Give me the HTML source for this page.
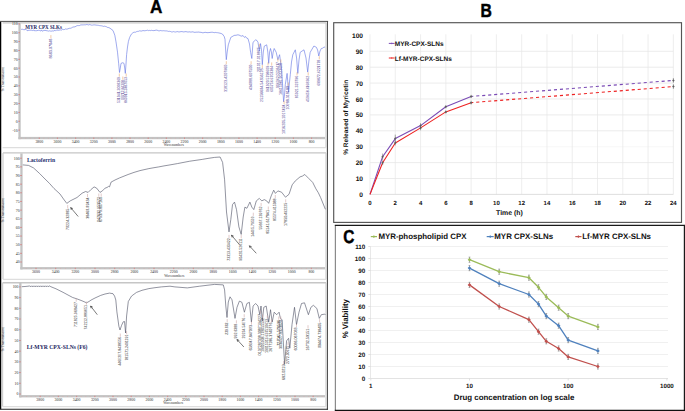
<!DOCTYPE html>
<html><head><meta charset="utf-8"><style>
html,body{margin:0;padding:0;background:#fff;font-family:"Liberation Sans",sans-serif;width:685px;height:411px;overflow:hidden;}
svg{display:block;}
.gp text{text-rendering:geometricPrecision;}

</style></head><body>
<svg width="685" height="411" viewBox="0 0 685 411">
<rect width="685" height="411" fill="#fff"/>
<text x="0" y="0" transform="translate(156.2,13.2) scale(0.93,1)" stroke="#000" stroke-width="0.35" font-size="18.5" font-weight="bold" text-anchor="middle" font-family="Liberation Sans">A</text>
<text x="0" y="0" transform="translate(486.1,16.6) scale(0.85,1)" stroke="#000" stroke-width="0.5" font-size="18.5" font-weight="bold" text-anchor="middle" font-family="Liberation Sans">B</text>
<line x1="0.6" y1="21.5" x2="0.6" y2="409.2" stroke="#000" stroke-width="1.3" />
<line x1="0" y1="21.4" x2="328.1" y2="21.4" stroke="#505050" stroke-width="1.0" />
<line x1="327.40000000000003" y1="21.0" x2="327.40000000000003" y2="409.6" stroke="#484848" stroke-width="1.1" />
<line x1="0" y1="409.2" x2="328.0" y2="409.2" stroke="#222" stroke-width="1.1" />
<line x1="2.6" y1="22.9" x2="326" y2="22.9" stroke="#c6c6c6" stroke-width="1.4" />
<line x1="326" y1="22.9" x2="326" y2="147.6" stroke="#cfcfcf" stroke-width="1.2" />
<line x1="2.6" y1="147.6" x2="326" y2="147.6" stroke="#dedede" stroke-width="1.2" />
<line x1="3.0" y1="152.9" x2="326" y2="152.9" stroke="#c6c6c6" stroke-width="1.4" />
<line x1="3.0" y1="152.9" x2="3.0" y2="279.3" stroke="#cfcfcf" stroke-width="1.2" />
<line x1="326" y1="152.9" x2="326" y2="279.3" stroke="#cfcfcf" stroke-width="1.2" />
<line x1="3.0" y1="279.3" x2="326" y2="279.3" stroke="#dedede" stroke-width="1.2" />
<line x1="2.6" y1="282.8" x2="326" y2="282.8" stroke="#c6c6c6" stroke-width="1.4" />
<line x1="2.6" y1="282.8" x2="2.6" y2="406.6" stroke="#cfcfcf" stroke-width="1.2" />
<line x1="326" y1="282.8" x2="326" y2="406.6" stroke="#cfcfcf" stroke-width="1.2" />
<line x1="2.6" y1="406.6" x2="326" y2="406.6" stroke="#dedede" stroke-width="1.2" />
<rect x="18.4" y="23.2" width="2.3" height="116.0" fill="#c3c3c3"/>
<rect x="18.4" y="136.9" width="306.6" height="2.3" fill="#c3c3c3"/>
<line x1="18.3" y1="23.9" x2="19.9" y2="23.9" stroke="#d66" stroke-width="0.7" />
<text x="17.7" y="25.299999999999997" font-size="3.9" fill="#2a2a2a" font-weight="normal" text-anchor="end" font-family="Liberation Serif" >110</text>
<line x1="18.3" y1="32.75" x2="19.9" y2="32.75" stroke="#d66" stroke-width="0.7" />
<text x="17.7" y="34.15" font-size="3.9" fill="#2a2a2a" font-weight="normal" text-anchor="end" font-family="Liberation Serif" >100</text>
<line x1="18.3" y1="41.599999999999994" x2="19.9" y2="41.599999999999994" stroke="#d66" stroke-width="0.7" />
<text x="17.7" y="42.99999999999999" font-size="3.9" fill="#2a2a2a" font-weight="normal" text-anchor="end" font-family="Liberation Serif" >90</text>
<line x1="18.3" y1="50.449999999999996" x2="19.9" y2="50.449999999999996" stroke="#d66" stroke-width="0.7" />
<text x="17.7" y="51.849999999999994" font-size="3.9" fill="#2a2a2a" font-weight="normal" text-anchor="end" font-family="Liberation Serif" >80</text>
<line x1="18.3" y1="59.3" x2="19.9" y2="59.3" stroke="#d66" stroke-width="0.7" />
<text x="17.7" y="60.699999999999996" font-size="3.9" fill="#2a2a2a" font-weight="normal" text-anchor="end" font-family="Liberation Serif" >70</text>
<line x1="18.3" y1="68.15" x2="19.9" y2="68.15" stroke="#d66" stroke-width="0.7" />
<text x="17.7" y="69.55000000000001" font-size="3.9" fill="#2a2a2a" font-weight="normal" text-anchor="end" font-family="Liberation Serif" >60</text>
<line x1="18.3" y1="77.0" x2="19.9" y2="77.0" stroke="#d66" stroke-width="0.7" />
<text x="17.7" y="78.4" font-size="3.9" fill="#2a2a2a" font-weight="normal" text-anchor="end" font-family="Liberation Serif" >50</text>
<line x1="18.3" y1="85.85" x2="19.9" y2="85.85" stroke="#d66" stroke-width="0.7" />
<text x="17.7" y="87.25" font-size="3.9" fill="#2a2a2a" font-weight="normal" text-anchor="end" font-family="Liberation Serif" >40</text>
<line x1="18.3" y1="94.69999999999999" x2="19.9" y2="94.69999999999999" stroke="#d66" stroke-width="0.7" />
<text x="17.7" y="96.1" font-size="3.9" fill="#2a2a2a" font-weight="normal" text-anchor="end" font-family="Liberation Serif" >30</text>
<line x1="18.3" y1="103.54999999999998" x2="19.9" y2="103.54999999999998" stroke="#d66" stroke-width="0.7" />
<text x="17.7" y="104.94999999999999" font-size="3.9" fill="#2a2a2a" font-weight="normal" text-anchor="end" font-family="Liberation Serif" >20</text>
<line x1="18.3" y1="112.4" x2="19.9" y2="112.4" stroke="#d66" stroke-width="0.7" />
<text x="17.7" y="113.80000000000001" font-size="3.9" fill="#2a2a2a" font-weight="normal" text-anchor="end" font-family="Liberation Serif" >10</text>
<line x1="18.3" y1="121.25" x2="19.9" y2="121.25" stroke="#d66" stroke-width="0.7" />
<text x="17.7" y="122.65" font-size="3.9" fill="#2a2a2a" font-weight="normal" text-anchor="end" font-family="Liberation Serif" >0</text>
<line x1="18.3" y1="130.1" x2="19.9" y2="130.1" stroke="#d66" stroke-width="0.7" />
<text x="17.7" y="131.5" font-size="3.9" fill="#2a2a2a" font-weight="normal" text-anchor="end" font-family="Liberation Serif" >-10</text>
<line x1="39.3" y1="137.6" x2="39.3" y2="138.9" stroke="#d66" stroke-width="0.7" />
<text x="39.3" y="142.9" font-size="3.9" fill="#2a2a2a" font-weight="normal" text-anchor="middle" font-family="Liberation Serif" >3800</text>
<line x1="57.449999999999996" y1="137.6" x2="57.449999999999996" y2="138.9" stroke="#d66" stroke-width="0.7" />
<text x="57.449999999999996" y="142.9" font-size="3.9" fill="#2a2a2a" font-weight="normal" text-anchor="middle" font-family="Liberation Serif" >3600</text>
<line x1="75.6" y1="137.6" x2="75.6" y2="138.9" stroke="#d66" stroke-width="0.7" />
<text x="75.6" y="142.9" font-size="3.9" fill="#2a2a2a" font-weight="normal" text-anchor="middle" font-family="Liberation Serif" >3400</text>
<line x1="93.75" y1="137.6" x2="93.75" y2="138.9" stroke="#d66" stroke-width="0.7" />
<text x="93.75" y="142.9" font-size="3.9" fill="#2a2a2a" font-weight="normal" text-anchor="middle" font-family="Liberation Serif" >3200</text>
<line x1="111.89999999999999" y1="137.6" x2="111.89999999999999" y2="138.9" stroke="#d66" stroke-width="0.7" />
<text x="111.89999999999999" y="142.9" font-size="3.9" fill="#2a2a2a" font-weight="normal" text-anchor="middle" font-family="Liberation Serif" >3000</text>
<line x1="130.05" y1="137.6" x2="130.05" y2="138.9" stroke="#d66" stroke-width="0.7" />
<text x="130.05" y="142.9" font-size="3.9" fill="#2a2a2a" font-weight="normal" text-anchor="middle" font-family="Liberation Serif" >2800</text>
<line x1="148.2" y1="137.6" x2="148.2" y2="138.9" stroke="#d66" stroke-width="0.7" />
<text x="148.2" y="142.9" font-size="3.9" fill="#2a2a2a" font-weight="normal" text-anchor="middle" font-family="Liberation Serif" >2600</text>
<line x1="166.34999999999997" y1="137.6" x2="166.34999999999997" y2="138.9" stroke="#d66" stroke-width="0.7" />
<text x="166.34999999999997" y="142.9" font-size="3.9" fill="#2a2a2a" font-weight="normal" text-anchor="middle" font-family="Liberation Serif" >2400</text>
<line x1="184.5" y1="137.6" x2="184.5" y2="138.9" stroke="#d66" stroke-width="0.7" />
<text x="184.5" y="142.9" font-size="3.9" fill="#2a2a2a" font-weight="normal" text-anchor="middle" font-family="Liberation Serif" >2200</text>
<line x1="202.64999999999998" y1="137.6" x2="202.64999999999998" y2="138.9" stroke="#d66" stroke-width="0.7" />
<text x="202.64999999999998" y="142.9" font-size="3.9" fill="#2a2a2a" font-weight="normal" text-anchor="middle" font-family="Liberation Serif" >2000</text>
<line x1="220.8" y1="137.6" x2="220.8" y2="138.9" stroke="#d66" stroke-width="0.7" />
<text x="220.8" y="142.9" font-size="3.9" fill="#2a2a2a" font-weight="normal" text-anchor="middle" font-family="Liberation Serif" >1800</text>
<line x1="238.95" y1="137.6" x2="238.95" y2="138.9" stroke="#d66" stroke-width="0.7" />
<text x="238.95" y="142.9" font-size="3.9" fill="#2a2a2a" font-weight="normal" text-anchor="middle" font-family="Liberation Serif" >1600</text>
<line x1="257.09999999999997" y1="137.6" x2="257.09999999999997" y2="138.9" stroke="#d66" stroke-width="0.7" />
<text x="257.09999999999997" y="142.9" font-size="3.9" fill="#2a2a2a" font-weight="normal" text-anchor="middle" font-family="Liberation Serif" >1400</text>
<line x1="275.25" y1="137.6" x2="275.25" y2="138.9" stroke="#d66" stroke-width="0.7" />
<text x="275.25" y="142.9" font-size="3.9" fill="#2a2a2a" font-weight="normal" text-anchor="middle" font-family="Liberation Serif" >1200</text>
<line x1="293.4" y1="137.6" x2="293.4" y2="138.9" stroke="#d66" stroke-width="0.7" />
<text x="293.4" y="142.9" font-size="3.9" fill="#2a2a2a" font-weight="normal" text-anchor="middle" font-family="Liberation Serif" >1000</text>
<line x1="311.55" y1="137.6" x2="311.55" y2="138.9" stroke="#d66" stroke-width="0.7" />
<text x="311.55" y="142.9" font-size="3.9" fill="#2a2a2a" font-weight="normal" text-anchor="middle" font-family="Liberation Serif" >800</text>
<line x1="21.15" y1="137.8" x2="21.15" y2="138.6" stroke="#e3a0a0" stroke-width="0.5" />
<line x1="25.6875" y1="137.8" x2="25.6875" y2="138.6" stroke="#e3a0a0" stroke-width="0.5" />
<line x1="30.225" y1="137.8" x2="30.225" y2="138.6" stroke="#e3a0a0" stroke-width="0.5" />
<line x1="34.7625" y1="137.8" x2="34.7625" y2="138.6" stroke="#e3a0a0" stroke-width="0.5" />
<line x1="39.300000000000004" y1="137.8" x2="39.300000000000004" y2="138.6" stroke="#e3a0a0" stroke-width="0.5" />
<line x1="43.837500000000006" y1="137.8" x2="43.837500000000006" y2="138.6" stroke="#e3a0a0" stroke-width="0.5" />
<line x1="48.37500000000001" y1="137.8" x2="48.37500000000001" y2="138.6" stroke="#e3a0a0" stroke-width="0.5" />
<line x1="52.91250000000001" y1="137.8" x2="52.91250000000001" y2="138.6" stroke="#e3a0a0" stroke-width="0.5" />
<line x1="57.45000000000001" y1="137.8" x2="57.45000000000001" y2="138.6" stroke="#e3a0a0" stroke-width="0.5" />
<line x1="61.98750000000001" y1="137.8" x2="61.98750000000001" y2="138.6" stroke="#e3a0a0" stroke-width="0.5" />
<line x1="66.525" y1="137.8" x2="66.525" y2="138.6" stroke="#e3a0a0" stroke-width="0.5" />
<line x1="71.0625" y1="137.8" x2="71.0625" y2="138.6" stroke="#e3a0a0" stroke-width="0.5" />
<line x1="75.6" y1="137.8" x2="75.6" y2="138.6" stroke="#e3a0a0" stroke-width="0.5" />
<line x1="80.13749999999999" y1="137.8" x2="80.13749999999999" y2="138.6" stroke="#e3a0a0" stroke-width="0.5" />
<line x1="84.67499999999998" y1="137.8" x2="84.67499999999998" y2="138.6" stroke="#e3a0a0" stroke-width="0.5" />
<line x1="89.21249999999998" y1="137.8" x2="89.21249999999998" y2="138.6" stroke="#e3a0a0" stroke-width="0.5" />
<line x1="93.74999999999997" y1="137.8" x2="93.74999999999997" y2="138.6" stroke="#e3a0a0" stroke-width="0.5" />
<line x1="98.28749999999997" y1="137.8" x2="98.28749999999997" y2="138.6" stroke="#e3a0a0" stroke-width="0.5" />
<line x1="102.82499999999996" y1="137.8" x2="102.82499999999996" y2="138.6" stroke="#e3a0a0" stroke-width="0.5" />
<line x1="107.36249999999995" y1="137.8" x2="107.36249999999995" y2="138.6" stroke="#e3a0a0" stroke-width="0.5" />
<line x1="111.89999999999995" y1="137.8" x2="111.89999999999995" y2="138.6" stroke="#e3a0a0" stroke-width="0.5" />
<line x1="116.43749999999994" y1="137.8" x2="116.43749999999994" y2="138.6" stroke="#e3a0a0" stroke-width="0.5" />
<line x1="120.97499999999994" y1="137.8" x2="120.97499999999994" y2="138.6" stroke="#e3a0a0" stroke-width="0.5" />
<line x1="125.51249999999993" y1="137.8" x2="125.51249999999993" y2="138.6" stroke="#e3a0a0" stroke-width="0.5" />
<line x1="130.04999999999993" y1="137.8" x2="130.04999999999993" y2="138.6" stroke="#e3a0a0" stroke-width="0.5" />
<line x1="134.58749999999992" y1="137.8" x2="134.58749999999992" y2="138.6" stroke="#e3a0a0" stroke-width="0.5" />
<line x1="139.12499999999991" y1="137.8" x2="139.12499999999991" y2="138.6" stroke="#e3a0a0" stroke-width="0.5" />
<line x1="143.6624999999999" y1="137.8" x2="143.6624999999999" y2="138.6" stroke="#e3a0a0" stroke-width="0.5" />
<line x1="148.1999999999999" y1="137.8" x2="148.1999999999999" y2="138.6" stroke="#e3a0a0" stroke-width="0.5" />
<line x1="152.7374999999999" y1="137.8" x2="152.7374999999999" y2="138.6" stroke="#e3a0a0" stroke-width="0.5" />
<line x1="157.2749999999999" y1="137.8" x2="157.2749999999999" y2="138.6" stroke="#e3a0a0" stroke-width="0.5" />
<line x1="161.8124999999999" y1="137.8" x2="161.8124999999999" y2="138.6" stroke="#e3a0a0" stroke-width="0.5" />
<line x1="166.34999999999988" y1="137.8" x2="166.34999999999988" y2="138.6" stroke="#e3a0a0" stroke-width="0.5" />
<line x1="170.88749999999987" y1="137.8" x2="170.88749999999987" y2="138.6" stroke="#e3a0a0" stroke-width="0.5" />
<line x1="175.42499999999987" y1="137.8" x2="175.42499999999987" y2="138.6" stroke="#e3a0a0" stroke-width="0.5" />
<line x1="179.96249999999986" y1="137.8" x2="179.96249999999986" y2="138.6" stroke="#e3a0a0" stroke-width="0.5" />
<line x1="184.49999999999986" y1="137.8" x2="184.49999999999986" y2="138.6" stroke="#e3a0a0" stroke-width="0.5" />
<line x1="189.03749999999985" y1="137.8" x2="189.03749999999985" y2="138.6" stroke="#e3a0a0" stroke-width="0.5" />
<line x1="193.57499999999985" y1="137.8" x2="193.57499999999985" y2="138.6" stroke="#e3a0a0" stroke-width="0.5" />
<line x1="198.11249999999984" y1="137.8" x2="198.11249999999984" y2="138.6" stroke="#e3a0a0" stroke-width="0.5" />
<line x1="202.64999999999984" y1="137.8" x2="202.64999999999984" y2="138.6" stroke="#e3a0a0" stroke-width="0.5" />
<line x1="207.18749999999983" y1="137.8" x2="207.18749999999983" y2="138.6" stroke="#e3a0a0" stroke-width="0.5" />
<line x1="211.72499999999982" y1="137.8" x2="211.72499999999982" y2="138.6" stroke="#e3a0a0" stroke-width="0.5" />
<line x1="216.26249999999982" y1="137.8" x2="216.26249999999982" y2="138.6" stroke="#e3a0a0" stroke-width="0.5" />
<line x1="220.7999999999998" y1="137.8" x2="220.7999999999998" y2="138.6" stroke="#e3a0a0" stroke-width="0.5" />
<line x1="225.3374999999998" y1="137.8" x2="225.3374999999998" y2="138.6" stroke="#e3a0a0" stroke-width="0.5" />
<line x1="229.8749999999998" y1="137.8" x2="229.8749999999998" y2="138.6" stroke="#e3a0a0" stroke-width="0.5" />
<line x1="234.4124999999998" y1="137.8" x2="234.4124999999998" y2="138.6" stroke="#e3a0a0" stroke-width="0.5" />
<line x1="238.9499999999998" y1="137.8" x2="238.9499999999998" y2="138.6" stroke="#e3a0a0" stroke-width="0.5" />
<line x1="243.48749999999978" y1="137.8" x2="243.48749999999978" y2="138.6" stroke="#e3a0a0" stroke-width="0.5" />
<line x1="248.02499999999978" y1="137.8" x2="248.02499999999978" y2="138.6" stroke="#e3a0a0" stroke-width="0.5" />
<line x1="252.56249999999977" y1="137.8" x2="252.56249999999977" y2="138.6" stroke="#e3a0a0" stroke-width="0.5" />
<line x1="257.0999999999998" y1="137.8" x2="257.0999999999998" y2="138.6" stroke="#e3a0a0" stroke-width="0.5" />
<line x1="261.6374999999998" y1="137.8" x2="261.6374999999998" y2="138.6" stroke="#e3a0a0" stroke-width="0.5" />
<line x1="266.17499999999984" y1="137.8" x2="266.17499999999984" y2="138.6" stroke="#e3a0a0" stroke-width="0.5" />
<line x1="270.71249999999986" y1="137.8" x2="270.71249999999986" y2="138.6" stroke="#e3a0a0" stroke-width="0.5" />
<line x1="275.2499999999999" y1="137.8" x2="275.2499999999999" y2="138.6" stroke="#e3a0a0" stroke-width="0.5" />
<line x1="279.7874999999999" y1="137.8" x2="279.7874999999999" y2="138.6" stroke="#e3a0a0" stroke-width="0.5" />
<line x1="284.32499999999993" y1="137.8" x2="284.32499999999993" y2="138.6" stroke="#e3a0a0" stroke-width="0.5" />
<line x1="288.86249999999995" y1="137.8" x2="288.86249999999995" y2="138.6" stroke="#e3a0a0" stroke-width="0.5" />
<line x1="293.4" y1="137.8" x2="293.4" y2="138.6" stroke="#e3a0a0" stroke-width="0.5" />
<line x1="297.9375" y1="137.8" x2="297.9375" y2="138.6" stroke="#e3a0a0" stroke-width="0.5" />
<line x1="302.475" y1="137.8" x2="302.475" y2="138.6" stroke="#e3a0a0" stroke-width="0.5" />
<line x1="307.01250000000005" y1="137.8" x2="307.01250000000005" y2="138.6" stroke="#e3a0a0" stroke-width="0.5" />
<line x1="311.55000000000007" y1="137.8" x2="311.55000000000007" y2="138.6" stroke="#e3a0a0" stroke-width="0.5" />
<line x1="316.0875000000001" y1="137.8" x2="316.0875000000001" y2="138.6" stroke="#e3a0a0" stroke-width="0.5" />
<line x1="320.6250000000001" y1="137.8" x2="320.6250000000001" y2="138.6" stroke="#e3a0a0" stroke-width="0.5" />
<text x="173.8" y="145.5" font-size="3.5" fill="#333" font-weight="normal" text-anchor="middle" font-family="Liberation Serif" >Wavenumbers</text>
<text x="0" y="0" transform="translate(4.4,79) rotate(-90)" font-size="3.6" fill="#222" font-weight="normal" text-anchor="middle" font-family="Liberation Serif" >% Transmittance</text>
<rect x="20.299999999999997" y="153.4" width="2.3" height="115.99999999999999" fill="#c3c3c3"/>
<rect x="20.299999999999997" y="267.09999999999997" width="304.70000000000005" height="2.3" fill="#c3c3c3"/>
<line x1="20.2" y1="158.2" x2="21.799999999999997" y2="158.2" stroke="#d66" stroke-width="0.7" />
<text x="19.599999999999998" y="159.6" font-size="3.9" fill="#2a2a2a" font-weight="normal" text-anchor="end" font-family="Liberation Serif" >100</text>
<line x1="20.2" y1="166.85" x2="21.799999999999997" y2="166.85" stroke="#d66" stroke-width="0.7" />
<text x="19.599999999999998" y="168.25" font-size="3.9" fill="#2a2a2a" font-weight="normal" text-anchor="end" font-family="Liberation Serif" >95</text>
<line x1="20.2" y1="175.5" x2="21.799999999999997" y2="175.5" stroke="#d66" stroke-width="0.7" />
<text x="19.599999999999998" y="176.9" font-size="3.9" fill="#2a2a2a" font-weight="normal" text-anchor="end" font-family="Liberation Serif" >90</text>
<line x1="20.2" y1="184.14999999999998" x2="21.799999999999997" y2="184.14999999999998" stroke="#d66" stroke-width="0.7" />
<text x="19.599999999999998" y="185.54999999999998" font-size="3.9" fill="#2a2a2a" font-weight="normal" text-anchor="end" font-family="Liberation Serif" >85</text>
<line x1="20.2" y1="192.79999999999998" x2="21.799999999999997" y2="192.79999999999998" stroke="#d66" stroke-width="0.7" />
<text x="19.599999999999998" y="194.2" font-size="3.9" fill="#2a2a2a" font-weight="normal" text-anchor="end" font-family="Liberation Serif" >80</text>
<line x1="20.2" y1="201.45" x2="21.799999999999997" y2="201.45" stroke="#d66" stroke-width="0.7" />
<text x="19.599999999999998" y="202.85" font-size="3.9" fill="#2a2a2a" font-weight="normal" text-anchor="end" font-family="Liberation Serif" >75</text>
<line x1="20.2" y1="210.1" x2="21.799999999999997" y2="210.1" stroke="#d66" stroke-width="0.7" />
<text x="19.599999999999998" y="211.5" font-size="3.9" fill="#2a2a2a" font-weight="normal" text-anchor="end" font-family="Liberation Serif" >70</text>
<line x1="20.2" y1="218.75" x2="21.799999999999997" y2="218.75" stroke="#d66" stroke-width="0.7" />
<text x="19.599999999999998" y="220.15" font-size="3.9" fill="#2a2a2a" font-weight="normal" text-anchor="end" font-family="Liberation Serif" >65</text>
<line x1="20.2" y1="227.39999999999998" x2="21.799999999999997" y2="227.39999999999998" stroke="#d66" stroke-width="0.7" />
<text x="19.599999999999998" y="228.79999999999998" font-size="3.9" fill="#2a2a2a" font-weight="normal" text-anchor="end" font-family="Liberation Serif" >60</text>
<line x1="20.2" y1="236.05" x2="21.799999999999997" y2="236.05" stroke="#d66" stroke-width="0.7" />
<text x="19.599999999999998" y="237.45000000000002" font-size="3.9" fill="#2a2a2a" font-weight="normal" text-anchor="end" font-family="Liberation Serif" >55</text>
<line x1="20.2" y1="244.7" x2="21.799999999999997" y2="244.7" stroke="#d66" stroke-width="0.7" />
<text x="19.599999999999998" y="246.1" font-size="3.9" fill="#2a2a2a" font-weight="normal" text-anchor="end" font-family="Liberation Serif" >50</text>
<line x1="20.2" y1="253.35" x2="21.799999999999997" y2="253.35" stroke="#d66" stroke-width="0.7" />
<text x="19.599999999999998" y="254.75" font-size="3.9" fill="#2a2a2a" font-weight="normal" text-anchor="end" font-family="Liberation Serif" >45</text>
<line x1="20.2" y1="262.0" x2="21.799999999999997" y2="262.0" stroke="#d66" stroke-width="0.7" />
<text x="19.599999999999998" y="263.4" font-size="3.9" fill="#2a2a2a" font-weight="normal" text-anchor="end" font-family="Liberation Serif" >40</text>
<line x1="36.0" y1="267.8" x2="36.0" y2="269.09999999999997" stroke="#d66" stroke-width="0.7" />
<text x="36.0" y="273.4" font-size="3.9" fill="#2a2a2a" font-weight="normal" text-anchor="middle" font-family="Liberation Serif" >3600</text>
<line x1="55.67" y1="267.8" x2="55.67" y2="269.09999999999997" stroke="#d66" stroke-width="0.7" />
<text x="55.67" y="273.4" font-size="3.9" fill="#2a2a2a" font-weight="normal" text-anchor="middle" font-family="Liberation Serif" >3400</text>
<line x1="75.34" y1="267.8" x2="75.34" y2="269.09999999999997" stroke="#d66" stroke-width="0.7" />
<text x="75.34" y="273.4" font-size="3.9" fill="#2a2a2a" font-weight="normal" text-anchor="middle" font-family="Liberation Serif" >3200</text>
<line x1="95.01" y1="267.8" x2="95.01" y2="269.09999999999997" stroke="#d66" stroke-width="0.7" />
<text x="95.01" y="273.4" font-size="3.9" fill="#2a2a2a" font-weight="normal" text-anchor="middle" font-family="Liberation Serif" >3000</text>
<line x1="114.68" y1="267.8" x2="114.68" y2="269.09999999999997" stroke="#d66" stroke-width="0.7" />
<text x="114.68" y="273.4" font-size="3.9" fill="#2a2a2a" font-weight="normal" text-anchor="middle" font-family="Liberation Serif" >2800</text>
<line x1="134.35000000000002" y1="267.8" x2="134.35000000000002" y2="269.09999999999997" stroke="#d66" stroke-width="0.7" />
<text x="134.35000000000002" y="273.4" font-size="3.9" fill="#2a2a2a" font-weight="normal" text-anchor="middle" font-family="Liberation Serif" >2600</text>
<line x1="154.02" y1="267.8" x2="154.02" y2="269.09999999999997" stroke="#d66" stroke-width="0.7" />
<text x="154.02" y="273.4" font-size="3.9" fill="#2a2a2a" font-weight="normal" text-anchor="middle" font-family="Liberation Serif" >2400</text>
<line x1="173.69" y1="267.8" x2="173.69" y2="269.09999999999997" stroke="#d66" stroke-width="0.7" />
<text x="173.69" y="273.4" font-size="3.9" fill="#2a2a2a" font-weight="normal" text-anchor="middle" font-family="Liberation Serif" >2200</text>
<line x1="193.36" y1="267.8" x2="193.36" y2="269.09999999999997" stroke="#d66" stroke-width="0.7" />
<text x="193.36" y="273.4" font-size="3.9" fill="#2a2a2a" font-weight="normal" text-anchor="middle" font-family="Liberation Serif" >2000</text>
<line x1="213.03000000000003" y1="267.8" x2="213.03000000000003" y2="269.09999999999997" stroke="#d66" stroke-width="0.7" />
<text x="213.03000000000003" y="273.4" font-size="3.9" fill="#2a2a2a" font-weight="normal" text-anchor="middle" font-family="Liberation Serif" >1800</text>
<line x1="232.70000000000002" y1="267.8" x2="232.70000000000002" y2="269.09999999999997" stroke="#d66" stroke-width="0.7" />
<text x="232.70000000000002" y="273.4" font-size="3.9" fill="#2a2a2a" font-weight="normal" text-anchor="middle" font-family="Liberation Serif" >1600</text>
<line x1="252.37" y1="267.8" x2="252.37" y2="269.09999999999997" stroke="#d66" stroke-width="0.7" />
<text x="252.37" y="273.4" font-size="3.9" fill="#2a2a2a" font-weight="normal" text-anchor="middle" font-family="Liberation Serif" >1400</text>
<line x1="272.04" y1="267.8" x2="272.04" y2="269.09999999999997" stroke="#d66" stroke-width="0.7" />
<text x="272.04" y="273.4" font-size="3.9" fill="#2a2a2a" font-weight="normal" text-anchor="middle" font-family="Liberation Serif" >1200</text>
<line x1="291.71000000000004" y1="267.8" x2="291.71000000000004" y2="269.09999999999997" stroke="#d66" stroke-width="0.7" />
<text x="291.71000000000004" y="273.4" font-size="3.9" fill="#2a2a2a" font-weight="normal" text-anchor="middle" font-family="Liberation Serif" >1000</text>
<line x1="311.38" y1="267.8" x2="311.38" y2="269.09999999999997" stroke="#d66" stroke-width="0.7" />
<text x="311.38" y="273.4" font-size="3.9" fill="#2a2a2a" font-weight="normal" text-anchor="middle" font-family="Liberation Serif" >800</text>
<line x1="26.165" y1="268.0" x2="26.165" y2="268.8" stroke="#e3a0a0" stroke-width="0.5" />
<line x1="31.0825" y1="268.0" x2="31.0825" y2="268.8" stroke="#e3a0a0" stroke-width="0.5" />
<line x1="36.0" y1="268.0" x2="36.0" y2="268.8" stroke="#e3a0a0" stroke-width="0.5" />
<line x1="40.917500000000004" y1="268.0" x2="40.917500000000004" y2="268.8" stroke="#e3a0a0" stroke-width="0.5" />
<line x1="45.83500000000001" y1="268.0" x2="45.83500000000001" y2="268.8" stroke="#e3a0a0" stroke-width="0.5" />
<line x1="50.75250000000001" y1="268.0" x2="50.75250000000001" y2="268.8" stroke="#e3a0a0" stroke-width="0.5" />
<line x1="55.670000000000016" y1="268.0" x2="55.670000000000016" y2="268.8" stroke="#e3a0a0" stroke-width="0.5" />
<line x1="60.58750000000002" y1="268.0" x2="60.58750000000002" y2="268.8" stroke="#e3a0a0" stroke-width="0.5" />
<line x1="65.50500000000002" y1="268.0" x2="65.50500000000002" y2="268.8" stroke="#e3a0a0" stroke-width="0.5" />
<line x1="70.42250000000003" y1="268.0" x2="70.42250000000003" y2="268.8" stroke="#e3a0a0" stroke-width="0.5" />
<line x1="75.34000000000003" y1="268.0" x2="75.34000000000003" y2="268.8" stroke="#e3a0a0" stroke-width="0.5" />
<line x1="80.25750000000004" y1="268.0" x2="80.25750000000004" y2="268.8" stroke="#e3a0a0" stroke-width="0.5" />
<line x1="85.17500000000004" y1="268.0" x2="85.17500000000004" y2="268.8" stroke="#e3a0a0" stroke-width="0.5" />
<line x1="90.09250000000004" y1="268.0" x2="90.09250000000004" y2="268.8" stroke="#e3a0a0" stroke-width="0.5" />
<line x1="95.01000000000005" y1="268.0" x2="95.01000000000005" y2="268.8" stroke="#e3a0a0" stroke-width="0.5" />
<line x1="99.92750000000005" y1="268.0" x2="99.92750000000005" y2="268.8" stroke="#e3a0a0" stroke-width="0.5" />
<line x1="104.84500000000006" y1="268.0" x2="104.84500000000006" y2="268.8" stroke="#e3a0a0" stroke-width="0.5" />
<line x1="109.76250000000006" y1="268.0" x2="109.76250000000006" y2="268.8" stroke="#e3a0a0" stroke-width="0.5" />
<line x1="114.68000000000006" y1="268.0" x2="114.68000000000006" y2="268.8" stroke="#e3a0a0" stroke-width="0.5" />
<line x1="119.59750000000007" y1="268.0" x2="119.59750000000007" y2="268.8" stroke="#e3a0a0" stroke-width="0.5" />
<line x1="124.51500000000007" y1="268.0" x2="124.51500000000007" y2="268.8" stroke="#e3a0a0" stroke-width="0.5" />
<line x1="129.43250000000006" y1="268.0" x2="129.43250000000006" y2="268.8" stroke="#e3a0a0" stroke-width="0.5" />
<line x1="134.35000000000005" y1="268.0" x2="134.35000000000005" y2="268.8" stroke="#e3a0a0" stroke-width="0.5" />
<line x1="139.26750000000004" y1="268.0" x2="139.26750000000004" y2="268.8" stroke="#e3a0a0" stroke-width="0.5" />
<line x1="144.18500000000003" y1="268.0" x2="144.18500000000003" y2="268.8" stroke="#e3a0a0" stroke-width="0.5" />
<line x1="149.10250000000002" y1="268.0" x2="149.10250000000002" y2="268.8" stroke="#e3a0a0" stroke-width="0.5" />
<line x1="154.02" y1="268.0" x2="154.02" y2="268.8" stroke="#e3a0a0" stroke-width="0.5" />
<line x1="158.9375" y1="268.0" x2="158.9375" y2="268.8" stroke="#e3a0a0" stroke-width="0.5" />
<line x1="163.855" y1="268.0" x2="163.855" y2="268.8" stroke="#e3a0a0" stroke-width="0.5" />
<line x1="168.77249999999998" y1="268.0" x2="168.77249999999998" y2="268.8" stroke="#e3a0a0" stroke-width="0.5" />
<line x1="173.68999999999997" y1="268.0" x2="173.68999999999997" y2="268.8" stroke="#e3a0a0" stroke-width="0.5" />
<line x1="178.60749999999996" y1="268.0" x2="178.60749999999996" y2="268.8" stroke="#e3a0a0" stroke-width="0.5" />
<line x1="183.52499999999995" y1="268.0" x2="183.52499999999995" y2="268.8" stroke="#e3a0a0" stroke-width="0.5" />
<line x1="188.44249999999994" y1="268.0" x2="188.44249999999994" y2="268.8" stroke="#e3a0a0" stroke-width="0.5" />
<line x1="193.35999999999993" y1="268.0" x2="193.35999999999993" y2="268.8" stroke="#e3a0a0" stroke-width="0.5" />
<line x1="198.27749999999992" y1="268.0" x2="198.27749999999992" y2="268.8" stroke="#e3a0a0" stroke-width="0.5" />
<line x1="203.1949999999999" y1="268.0" x2="203.1949999999999" y2="268.8" stroke="#e3a0a0" stroke-width="0.5" />
<line x1="208.1124999999999" y1="268.0" x2="208.1124999999999" y2="268.8" stroke="#e3a0a0" stroke-width="0.5" />
<line x1="213.0299999999999" y1="268.0" x2="213.0299999999999" y2="268.8" stroke="#e3a0a0" stroke-width="0.5" />
<line x1="217.94749999999988" y1="268.0" x2="217.94749999999988" y2="268.8" stroke="#e3a0a0" stroke-width="0.5" />
<line x1="222.86499999999987" y1="268.0" x2="222.86499999999987" y2="268.8" stroke="#e3a0a0" stroke-width="0.5" />
<line x1="227.78249999999986" y1="268.0" x2="227.78249999999986" y2="268.8" stroke="#e3a0a0" stroke-width="0.5" />
<line x1="232.69999999999985" y1="268.0" x2="232.69999999999985" y2="268.8" stroke="#e3a0a0" stroke-width="0.5" />
<line x1="237.61749999999984" y1="268.0" x2="237.61749999999984" y2="268.8" stroke="#e3a0a0" stroke-width="0.5" />
<line x1="242.53499999999983" y1="268.0" x2="242.53499999999983" y2="268.8" stroke="#e3a0a0" stroke-width="0.5" />
<line x1="247.45249999999982" y1="268.0" x2="247.45249999999982" y2="268.8" stroke="#e3a0a0" stroke-width="0.5" />
<line x1="252.3699999999998" y1="268.0" x2="252.3699999999998" y2="268.8" stroke="#e3a0a0" stroke-width="0.5" />
<line x1="257.2874999999998" y1="268.0" x2="257.2874999999998" y2="268.8" stroke="#e3a0a0" stroke-width="0.5" />
<line x1="262.2049999999998" y1="268.0" x2="262.2049999999998" y2="268.8" stroke="#e3a0a0" stroke-width="0.5" />
<line x1="267.12249999999983" y1="268.0" x2="267.12249999999983" y2="268.8" stroke="#e3a0a0" stroke-width="0.5" />
<line x1="272.03999999999985" y1="268.0" x2="272.03999999999985" y2="268.8" stroke="#e3a0a0" stroke-width="0.5" />
<line x1="276.95749999999987" y1="268.0" x2="276.95749999999987" y2="268.8" stroke="#e3a0a0" stroke-width="0.5" />
<line x1="281.8749999999999" y1="268.0" x2="281.8749999999999" y2="268.8" stroke="#e3a0a0" stroke-width="0.5" />
<line x1="286.7924999999999" y1="268.0" x2="286.7924999999999" y2="268.8" stroke="#e3a0a0" stroke-width="0.5" />
<line x1="291.7099999999999" y1="268.0" x2="291.7099999999999" y2="268.8" stroke="#e3a0a0" stroke-width="0.5" />
<line x1="296.62749999999994" y1="268.0" x2="296.62749999999994" y2="268.8" stroke="#e3a0a0" stroke-width="0.5" />
<line x1="301.54499999999996" y1="268.0" x2="301.54499999999996" y2="268.8" stroke="#e3a0a0" stroke-width="0.5" />
<line x1="306.4625" y1="268.0" x2="306.4625" y2="268.8" stroke="#e3a0a0" stroke-width="0.5" />
<line x1="311.38" y1="268.0" x2="311.38" y2="268.8" stroke="#e3a0a0" stroke-width="0.5" />
<line x1="316.2975" y1="268.0" x2="316.2975" y2="268.8" stroke="#e3a0a0" stroke-width="0.5" />
<line x1="321.21500000000003" y1="268.0" x2="321.21500000000003" y2="268.8" stroke="#e3a0a0" stroke-width="0.5" />
<text x="174.3" y="276.6" font-size="3.5" fill="#333" font-weight="normal" text-anchor="middle" font-family="Liberation Serif" >Wavenumbers</text>
<text x="0" y="0" transform="translate(4.4,210) rotate(-90)" font-size="3.6" fill="#222" font-weight="normal" text-anchor="middle" font-family="Liberation Serif" >% Transmittance</text>
<rect x="19.2" y="282.8" width="2.3" height="114.59999999999998" fill="#c3c3c3"/>
<rect x="19.2" y="395.09999999999997" width="305.8" height="2.3" fill="#c3c3c3"/>
<line x1="19.1" y1="286.9" x2="20.7" y2="286.9" stroke="#d66" stroke-width="0.7" />
<text x="18.5" y="288.29999999999995" font-size="3.9" fill="#2a2a2a" font-weight="normal" text-anchor="end" font-family="Liberation Serif" >100</text>
<line x1="19.1" y1="297.60999999999996" x2="20.7" y2="297.60999999999996" stroke="#d66" stroke-width="0.7" />
<text x="18.5" y="299.00999999999993" font-size="3.9" fill="#2a2a2a" font-weight="normal" text-anchor="end" font-family="Liberation Serif" >90</text>
<line x1="19.1" y1="308.32" x2="20.7" y2="308.32" stroke="#d66" stroke-width="0.7" />
<text x="18.5" y="309.71999999999997" font-size="3.9" fill="#2a2a2a" font-weight="normal" text-anchor="end" font-family="Liberation Serif" >80</text>
<line x1="19.1" y1="319.03" x2="20.7" y2="319.03" stroke="#d66" stroke-width="0.7" />
<text x="18.5" y="320.42999999999995" font-size="3.9" fill="#2a2a2a" font-weight="normal" text-anchor="end" font-family="Liberation Serif" >70</text>
<line x1="19.1" y1="329.74" x2="20.7" y2="329.74" stroke="#d66" stroke-width="0.7" />
<text x="18.5" y="331.14" font-size="3.9" fill="#2a2a2a" font-weight="normal" text-anchor="end" font-family="Liberation Serif" >60</text>
<line x1="19.1" y1="340.45" x2="20.7" y2="340.45" stroke="#d66" stroke-width="0.7" />
<text x="18.5" y="341.84999999999997" font-size="3.9" fill="#2a2a2a" font-weight="normal" text-anchor="end" font-family="Liberation Serif" >50</text>
<line x1="19.1" y1="351.15999999999997" x2="20.7" y2="351.15999999999997" stroke="#d66" stroke-width="0.7" />
<text x="18.5" y="352.55999999999995" font-size="3.9" fill="#2a2a2a" font-weight="normal" text-anchor="end" font-family="Liberation Serif" >40</text>
<line x1="19.1" y1="361.87" x2="20.7" y2="361.87" stroke="#d66" stroke-width="0.7" />
<text x="18.5" y="363.27" font-size="3.9" fill="#2a2a2a" font-weight="normal" text-anchor="end" font-family="Liberation Serif" >30</text>
<line x1="19.1" y1="372.58" x2="20.7" y2="372.58" stroke="#d66" stroke-width="0.7" />
<text x="18.5" y="373.97999999999996" font-size="3.9" fill="#2a2a2a" font-weight="normal" text-anchor="end" font-family="Liberation Serif" >20</text>
<line x1="19.1" y1="383.28999999999996" x2="20.7" y2="383.28999999999996" stroke="#d66" stroke-width="0.7" />
<text x="18.5" y="384.68999999999994" font-size="3.9" fill="#2a2a2a" font-weight="normal" text-anchor="end" font-family="Liberation Serif" >10</text>
<line x1="19.1" y1="394.0" x2="20.7" y2="394.0" stroke="#d66" stroke-width="0.7" />
<text x="18.5" y="395.4" font-size="3.9" fill="#2a2a2a" font-weight="normal" text-anchor="end" font-family="Liberation Serif" >0</text>
<line x1="40.2" y1="395.8" x2="40.2" y2="397.09999999999997" stroke="#d66" stroke-width="0.7" />
<text x="40.2" y="401.0" font-size="3.9" fill="#2a2a2a" font-weight="normal" text-anchor="middle" font-family="Liberation Serif" >3800</text>
<line x1="58.400000000000006" y1="395.8" x2="58.400000000000006" y2="397.09999999999997" stroke="#d66" stroke-width="0.7" />
<text x="58.400000000000006" y="401.0" font-size="3.9" fill="#2a2a2a" font-weight="normal" text-anchor="middle" font-family="Liberation Serif" >3600</text>
<line x1="76.6" y1="395.8" x2="76.6" y2="397.09999999999997" stroke="#d66" stroke-width="0.7" />
<text x="76.6" y="401.0" font-size="3.9" fill="#2a2a2a" font-weight="normal" text-anchor="middle" font-family="Liberation Serif" >3400</text>
<line x1="94.8" y1="395.8" x2="94.8" y2="397.09999999999997" stroke="#d66" stroke-width="0.7" />
<text x="94.8" y="401.0" font-size="3.9" fill="#2a2a2a" font-weight="normal" text-anchor="middle" font-family="Liberation Serif" >3200</text>
<line x1="113.0" y1="395.8" x2="113.0" y2="397.09999999999997" stroke="#d66" stroke-width="0.7" />
<text x="113.0" y="401.0" font-size="3.9" fill="#2a2a2a" font-weight="normal" text-anchor="middle" font-family="Liberation Serif" >3000</text>
<line x1="131.2" y1="395.8" x2="131.2" y2="397.09999999999997" stroke="#d66" stroke-width="0.7" />
<text x="131.2" y="401.0" font-size="3.9" fill="#2a2a2a" font-weight="normal" text-anchor="middle" font-family="Liberation Serif" >2800</text>
<line x1="149.39999999999998" y1="395.8" x2="149.39999999999998" y2="397.09999999999997" stroke="#d66" stroke-width="0.7" />
<text x="149.39999999999998" y="401.0" font-size="3.9" fill="#2a2a2a" font-weight="normal" text-anchor="middle" font-family="Liberation Serif" >2600</text>
<line x1="167.6" y1="395.8" x2="167.6" y2="397.09999999999997" stroke="#d66" stroke-width="0.7" />
<text x="167.6" y="401.0" font-size="3.9" fill="#2a2a2a" font-weight="normal" text-anchor="middle" font-family="Liberation Serif" >2400</text>
<line x1="185.8" y1="395.8" x2="185.8" y2="397.09999999999997" stroke="#d66" stroke-width="0.7" />
<text x="185.8" y="401.0" font-size="3.9" fill="#2a2a2a" font-weight="normal" text-anchor="middle" font-family="Liberation Serif" >2200</text>
<line x1="204.0" y1="395.8" x2="204.0" y2="397.09999999999997" stroke="#d66" stroke-width="0.7" />
<text x="204.0" y="401.0" font-size="3.9" fill="#2a2a2a" font-weight="normal" text-anchor="middle" font-family="Liberation Serif" >2000</text>
<line x1="222.2" y1="395.8" x2="222.2" y2="397.09999999999997" stroke="#d66" stroke-width="0.7" />
<text x="222.2" y="401.0" font-size="3.9" fill="#2a2a2a" font-weight="normal" text-anchor="middle" font-family="Liberation Serif" >1800</text>
<line x1="240.39999999999998" y1="395.8" x2="240.39999999999998" y2="397.09999999999997" stroke="#d66" stroke-width="0.7" />
<text x="240.39999999999998" y="401.0" font-size="3.9" fill="#2a2a2a" font-weight="normal" text-anchor="middle" font-family="Liberation Serif" >1600</text>
<line x1="258.59999999999997" y1="395.8" x2="258.59999999999997" y2="397.09999999999997" stroke="#d66" stroke-width="0.7" />
<text x="258.59999999999997" y="401.0" font-size="3.9" fill="#2a2a2a" font-weight="normal" text-anchor="middle" font-family="Liberation Serif" >1400</text>
<line x1="276.8" y1="395.8" x2="276.8" y2="397.09999999999997" stroke="#d66" stroke-width="0.7" />
<text x="276.8" y="401.0" font-size="3.9" fill="#2a2a2a" font-weight="normal" text-anchor="middle" font-family="Liberation Serif" >1200</text>
<line x1="295.0" y1="395.8" x2="295.0" y2="397.09999999999997" stroke="#d66" stroke-width="0.7" />
<text x="295.0" y="401.0" font-size="3.9" fill="#2a2a2a" font-weight="normal" text-anchor="middle" font-family="Liberation Serif" >1000</text>
<line x1="313.2" y1="395.8" x2="313.2" y2="397.09999999999997" stroke="#d66" stroke-width="0.7" />
<text x="313.2" y="401.0" font-size="3.9" fill="#2a2a2a" font-weight="normal" text-anchor="middle" font-family="Liberation Serif" >800</text>
<line x1="22.0" y1="396.0" x2="22.0" y2="396.8" stroke="#e3a0a0" stroke-width="0.5" />
<line x1="26.55" y1="396.0" x2="26.55" y2="396.8" stroke="#e3a0a0" stroke-width="0.5" />
<line x1="31.1" y1="396.0" x2="31.1" y2="396.8" stroke="#e3a0a0" stroke-width="0.5" />
<line x1="35.650000000000006" y1="396.0" x2="35.650000000000006" y2="396.8" stroke="#e3a0a0" stroke-width="0.5" />
<line x1="40.2" y1="396.0" x2="40.2" y2="396.8" stroke="#e3a0a0" stroke-width="0.5" />
<line x1="44.75" y1="396.0" x2="44.75" y2="396.8" stroke="#e3a0a0" stroke-width="0.5" />
<line x1="49.3" y1="396.0" x2="49.3" y2="396.8" stroke="#e3a0a0" stroke-width="0.5" />
<line x1="53.849999999999994" y1="396.0" x2="53.849999999999994" y2="396.8" stroke="#e3a0a0" stroke-width="0.5" />
<line x1="58.39999999999999" y1="396.0" x2="58.39999999999999" y2="396.8" stroke="#e3a0a0" stroke-width="0.5" />
<line x1="62.94999999999999" y1="396.0" x2="62.94999999999999" y2="396.8" stroke="#e3a0a0" stroke-width="0.5" />
<line x1="67.49999999999999" y1="396.0" x2="67.49999999999999" y2="396.8" stroke="#e3a0a0" stroke-width="0.5" />
<line x1="72.04999999999998" y1="396.0" x2="72.04999999999998" y2="396.8" stroke="#e3a0a0" stroke-width="0.5" />
<line x1="76.59999999999998" y1="396.0" x2="76.59999999999998" y2="396.8" stroke="#e3a0a0" stroke-width="0.5" />
<line x1="81.14999999999998" y1="396.0" x2="81.14999999999998" y2="396.8" stroke="#e3a0a0" stroke-width="0.5" />
<line x1="85.69999999999997" y1="396.0" x2="85.69999999999997" y2="396.8" stroke="#e3a0a0" stroke-width="0.5" />
<line x1="90.24999999999997" y1="396.0" x2="90.24999999999997" y2="396.8" stroke="#e3a0a0" stroke-width="0.5" />
<line x1="94.79999999999997" y1="396.0" x2="94.79999999999997" y2="396.8" stroke="#e3a0a0" stroke-width="0.5" />
<line x1="99.34999999999997" y1="396.0" x2="99.34999999999997" y2="396.8" stroke="#e3a0a0" stroke-width="0.5" />
<line x1="103.89999999999996" y1="396.0" x2="103.89999999999996" y2="396.8" stroke="#e3a0a0" stroke-width="0.5" />
<line x1="108.44999999999996" y1="396.0" x2="108.44999999999996" y2="396.8" stroke="#e3a0a0" stroke-width="0.5" />
<line x1="112.99999999999996" y1="396.0" x2="112.99999999999996" y2="396.8" stroke="#e3a0a0" stroke-width="0.5" />
<line x1="117.54999999999995" y1="396.0" x2="117.54999999999995" y2="396.8" stroke="#e3a0a0" stroke-width="0.5" />
<line x1="122.09999999999995" y1="396.0" x2="122.09999999999995" y2="396.8" stroke="#e3a0a0" stroke-width="0.5" />
<line x1="126.64999999999995" y1="396.0" x2="126.64999999999995" y2="396.8" stroke="#e3a0a0" stroke-width="0.5" />
<line x1="131.19999999999996" y1="396.0" x2="131.19999999999996" y2="396.8" stroke="#e3a0a0" stroke-width="0.5" />
<line x1="135.74999999999997" y1="396.0" x2="135.74999999999997" y2="396.8" stroke="#e3a0a0" stroke-width="0.5" />
<line x1="140.29999999999998" y1="396.0" x2="140.29999999999998" y2="396.8" stroke="#e3a0a0" stroke-width="0.5" />
<line x1="144.85" y1="396.0" x2="144.85" y2="396.8" stroke="#e3a0a0" stroke-width="0.5" />
<line x1="149.4" y1="396.0" x2="149.4" y2="396.8" stroke="#e3a0a0" stroke-width="0.5" />
<line x1="153.95000000000002" y1="396.0" x2="153.95000000000002" y2="396.8" stroke="#e3a0a0" stroke-width="0.5" />
<line x1="158.50000000000003" y1="396.0" x2="158.50000000000003" y2="396.8" stroke="#e3a0a0" stroke-width="0.5" />
<line x1="163.05000000000004" y1="396.0" x2="163.05000000000004" y2="396.8" stroke="#e3a0a0" stroke-width="0.5" />
<line x1="167.60000000000005" y1="396.0" x2="167.60000000000005" y2="396.8" stroke="#e3a0a0" stroke-width="0.5" />
<line x1="172.15000000000006" y1="396.0" x2="172.15000000000006" y2="396.8" stroke="#e3a0a0" stroke-width="0.5" />
<line x1="176.70000000000007" y1="396.0" x2="176.70000000000007" y2="396.8" stroke="#e3a0a0" stroke-width="0.5" />
<line x1="181.25000000000009" y1="396.0" x2="181.25000000000009" y2="396.8" stroke="#e3a0a0" stroke-width="0.5" />
<line x1="185.8000000000001" y1="396.0" x2="185.8000000000001" y2="396.8" stroke="#e3a0a0" stroke-width="0.5" />
<line x1="190.3500000000001" y1="396.0" x2="190.3500000000001" y2="396.8" stroke="#e3a0a0" stroke-width="0.5" />
<line x1="194.90000000000012" y1="396.0" x2="194.90000000000012" y2="396.8" stroke="#e3a0a0" stroke-width="0.5" />
<line x1="199.45000000000013" y1="396.0" x2="199.45000000000013" y2="396.8" stroke="#e3a0a0" stroke-width="0.5" />
<line x1="204.00000000000014" y1="396.0" x2="204.00000000000014" y2="396.8" stroke="#e3a0a0" stroke-width="0.5" />
<line x1="208.55000000000015" y1="396.0" x2="208.55000000000015" y2="396.8" stroke="#e3a0a0" stroke-width="0.5" />
<line x1="213.10000000000016" y1="396.0" x2="213.10000000000016" y2="396.8" stroke="#e3a0a0" stroke-width="0.5" />
<line x1="217.65000000000018" y1="396.0" x2="217.65000000000018" y2="396.8" stroke="#e3a0a0" stroke-width="0.5" />
<line x1="222.2000000000002" y1="396.0" x2="222.2000000000002" y2="396.8" stroke="#e3a0a0" stroke-width="0.5" />
<line x1="226.7500000000002" y1="396.0" x2="226.7500000000002" y2="396.8" stroke="#e3a0a0" stroke-width="0.5" />
<line x1="231.3000000000002" y1="396.0" x2="231.3000000000002" y2="396.8" stroke="#e3a0a0" stroke-width="0.5" />
<line x1="235.85000000000022" y1="396.0" x2="235.85000000000022" y2="396.8" stroke="#e3a0a0" stroke-width="0.5" />
<line x1="240.40000000000023" y1="396.0" x2="240.40000000000023" y2="396.8" stroke="#e3a0a0" stroke-width="0.5" />
<line x1="244.95000000000024" y1="396.0" x2="244.95000000000024" y2="396.8" stroke="#e3a0a0" stroke-width="0.5" />
<line x1="249.50000000000026" y1="396.0" x2="249.50000000000026" y2="396.8" stroke="#e3a0a0" stroke-width="0.5" />
<line x1="254.05000000000027" y1="396.0" x2="254.05000000000027" y2="396.8" stroke="#e3a0a0" stroke-width="0.5" />
<line x1="258.60000000000025" y1="396.0" x2="258.60000000000025" y2="396.8" stroke="#e3a0a0" stroke-width="0.5" />
<line x1="263.15000000000026" y1="396.0" x2="263.15000000000026" y2="396.8" stroke="#e3a0a0" stroke-width="0.5" />
<line x1="267.7000000000003" y1="396.0" x2="267.7000000000003" y2="396.8" stroke="#e3a0a0" stroke-width="0.5" />
<line x1="272.2500000000003" y1="396.0" x2="272.2500000000003" y2="396.8" stroke="#e3a0a0" stroke-width="0.5" />
<line x1="276.8000000000003" y1="396.0" x2="276.8000000000003" y2="396.8" stroke="#e3a0a0" stroke-width="0.5" />
<line x1="281.3500000000003" y1="396.0" x2="281.3500000000003" y2="396.8" stroke="#e3a0a0" stroke-width="0.5" />
<line x1="285.9000000000003" y1="396.0" x2="285.9000000000003" y2="396.8" stroke="#e3a0a0" stroke-width="0.5" />
<line x1="290.45000000000033" y1="396.0" x2="290.45000000000033" y2="396.8" stroke="#e3a0a0" stroke-width="0.5" />
<line x1="295.00000000000034" y1="396.0" x2="295.00000000000034" y2="396.8" stroke="#e3a0a0" stroke-width="0.5" />
<line x1="299.55000000000035" y1="396.0" x2="299.55000000000035" y2="396.8" stroke="#e3a0a0" stroke-width="0.5" />
<line x1="304.10000000000036" y1="396.0" x2="304.10000000000036" y2="396.8" stroke="#e3a0a0" stroke-width="0.5" />
<line x1="308.6500000000004" y1="396.0" x2="308.6500000000004" y2="396.8" stroke="#e3a0a0" stroke-width="0.5" />
<line x1="313.2000000000004" y1="396.0" x2="313.2000000000004" y2="396.8" stroke="#e3a0a0" stroke-width="0.5" />
<line x1="317.7500000000004" y1="396.0" x2="317.7500000000004" y2="396.8" stroke="#e3a0a0" stroke-width="0.5" />
<line x1="322.3000000000004" y1="396.0" x2="322.3000000000004" y2="396.8" stroke="#e3a0a0" stroke-width="0.5" />
<text x="173.2" y="404.4" font-size="3.5" fill="#333" font-weight="normal" text-anchor="middle" font-family="Liberation Serif" >Wavenumbers</text>
<text x="0" y="0" transform="translate(4.4,339) rotate(-90)" font-size="3.6" fill="#222" font-weight="normal" text-anchor="middle" font-family="Liberation Serif" >% Transmittance</text>
<polyline points="21.1,29.4 22.2,29.2 23.2,29.5 24.3,30.0 25.0,29.0 26.2,29.5 27.1,30.7 28.1,30.5 29.0,30.2 29.8,30.3 31.1,30.1 32.2,30.4 32.9,30.6 34.0,29.9 34.7,30.9 35.7,30.7 36.9,30.7 38.2,30.3 39.4,30.4 40.6,31.1 41.4,29.9 42.2,31.2 43.2,30.7 44.0,30.5 45.0,30.3 46.0,30.6 47.3,30.8 48.5,31.1 49.8,30.8 50.6,31.1 51.9,31.1 52.9,30.8 53.8,31.0 54.8,30.2 55.5,31.1 56.8,29.8 58.0,30.4 58.8,30.2 60.4,29.9 61.4,30.1 62.4,29.4 63.4,29.6 64.5,29.5 65.7,28.9 66.8,29.2 68.0,28.8 69.2,28.3 70.3,28.3 71.5,27.9 72.7,27.2 73.9,26.9 75.0,26.9 76.2,26.1 77.3,25.6 78.5,25.6 79.7,25.5 80.8,24.9 82.0,24.9 83.2,24.9 84.2,24.8 85.2,24.9 86.2,24.6 87.2,24.5 88.2,25.0 89.2,24.6 90.2,24.7 91.4,25.1 92.5,25.1 93.7,24.9 94.9,24.9 96.1,25.1 97.2,25.2 98.4,25.3 99.4,25.6 100.4,25.7 101.4,25.8 102.4,26.0 103.4,26.4 104.4,26.2 105.4,26.4 106.6,26.8 107.7,27.5 108.8,27.6 110.0,28.2 113.0,30.5 114.8,35.2 116.0,41.9 117.5,52.1 118.7,63.8 119.5,72.5 120.3,68.0 121.0,63.4 122.8,62.7 124.0,63.4 124.7,68.0 125.3,73.4 126.0,64.0 126.6,54.7 127.5,47.0 128.4,41.5 129.6,37.5 131.3,34.2 133.1,32.6 134.2,32.2 135.3,32.3 136.4,31.7 137.5,31.4 138.6,31.3 139.7,30.8 140.8,31.0 141.9,31.0 143.0,30.5 144.1,30.8 145.2,30.7 146.3,30.5 147.4,30.2 148.5,30.6 149.6,30.4 150.7,30.6 151.7,30.3 152.8,30.6 153.9,30.6 155.0,30.4 156.1,30.1 157.1,30.2 158.2,30.7 159.2,30.9 160.2,30.5 161.3,30.7 162.3,30.8 163.4,30.7 164.4,30.8 165.5,30.9 166.5,30.9 167.5,31.1 168.5,31.4 169.5,31.3 170.5,31.5 171.5,31.9 172.5,31.9 173.6,31.6 174.6,31.9 175.7,32.0 176.8,31.7 177.9,31.6 178.9,32.0 180.0,31.8 181.0,31.6 182.0,31.6 183.0,31.8 184.0,32.0 185.0,31.6 186.0,31.7 187.0,31.8 188.0,32.1 189.0,31.8 190.0,31.9 191.0,32.2 192.0,31.8 193.0,31.9 194.0,32.2 195.0,32.4 196.0,32.1 197.0,32.2 198.0,32.1 199.0,32.0 200.0,32.4 201.0,32.2 202.0,32.7 203.0,32.8 204.0,32.6 205.0,32.3 206.0,32.4 207.0,32.7 208.0,32.6 209.0,32.6 210.0,32.4 211.1,32.3 212.1,32.2 213.2,32.4 214.2,32.7 215.2,32.4 216.3,32.6 217.5,32.7 218.8,32.9 220.0,33.2 221.2,33.5 222.4,34.0 224.2,36.5 225.0,39.3 225.5,48.0 226.3,59.7 227.2,52.0 228.3,44.8 230.8,37.4 234.0,35.5 235.0,35.2 236.0,35.4 237.0,34.9 238.0,34.9 239.0,35.0 240.0,35.5 241.0,36.1 242.0,36.1 243.0,35.5 244.4,37.4 245.5,36.5 246.5,38.0 248.0,38.6 249.5,44.0 250.6,52.3 251.8,58.5 253.0,42.3 255.6,39.9 257.0,40.5 258.0,42.3 259.3,51.0 260.5,43.6 261.5,50.0 262.3,64.7 263.3,52.0 264.3,46.1 266.7,44.8 267.8,52.0 268.7,63.4 269.6,52.0 270.5,48.5 271.4,52.0 272.2,58.5 273.2,52.0 274.2,48.5 276.2,52.3 277.9,59.7 279.6,54.7 281.6,69.6 282.6,85.0 283.6,101.9 284.5,95.0 285.3,84.5 287.1,73.4 288.6,92.0 289.5,82.0 290.3,74.6 291.5,62.0 292.8,54.7 295.3,49.8 296.6,58.0 297.8,73.4 299.0,60.0 300.2,52.3 304.0,49.8 306.0,58.0 307.7,72.1 309.0,60.0 310.2,52.3 313.9,46.0 316.4,47.3 317.6,50.0 318.8,56.0 320.0,51.0 321.3,48.5 322.6,48.2 323.8,47.3 325.0,47.0" fill="none" stroke="#6072e2" stroke-width="0.6" stroke-linejoin="round" />
<polyline points="22.8,164.9 28.5,165.4 33.5,167.9 39.7,173.6 44.0,178.0 49.6,183.5 54.0,188.5 60.0,194.0 63.5,199.0 66.8,203.4 70.2,200.9 77.0,197.5 82.1,193.2 85.6,191.5 88.1,192.4 90.7,189.8 94.1,186.9 96.6,188.1 100.0,192.4 102.6,190.7 105.1,188.1 107.0,187.5 108.6,186.4 109.5,186.9 111.1,182.1 115.0,180.0 119.6,177.9 128.1,174.5 134.0,172.4 140.0,170.6 148.9,168.6 154.0,167.7 158.8,166.9 164.0,165.9 170.0,164.9 177.4,163.6 183.0,162.5 189.8,161.2 196.0,160.3 202.2,159.4 208.0,158.4 214.6,157.4 220.1,157.0 222.6,162.4 224.6,179.8 226.5,212.0 229.0,231.9 230.8,219.5 232.5,204.6 234.5,202.1 236.5,209.6 238.9,226.9 241.2,234.4 243.2,217.0 244.9,207.1 246.9,208.3 249.9,202.1 251.8,207.1 253.8,209.6 256.3,200.9 259.3,198.4 261.8,200.9 264.3,199.6 266.7,200.9 268.7,203.3 271.2,195.9 273.7,190.2 275.4,193.4 277.9,190.9 281.6,192.2 285.5,197.2 289.0,194.3 292.2,184.8 295.3,180.9 300.0,176.9 302.4,176.1 304.8,174.5 308.8,178.5 312.7,182.4 315.9,188.8 318.3,192.7 320.6,197.5 325.4,209.3" fill="none" stroke="#4a4e62" stroke-width="0.6" stroke-linejoin="round" />
<polyline points="21.8,286.7 25.0,286.5 28.9,286.1 29.5,285.8 30.4,286.8 31.3,285.8 32.2,286.8 33.1,285.8 34.0,286.8 34.9,285.8 35.8,286.8 36.7,285.8 37.6,286.8 38.5,285.8 39.4,286.8 40.3,285.8 41.2,286.8 42.1,285.8 43.0,286.8 43.9,285.8 44.8,286.8 45.7,285.8 46.6,286.8 47.5,285.8 48.4,286.8 49.3,285.8 50.8,286.7 56.0,288.8 63.0,292.3 68.0,295.0 72.7,297.5 77.0,298.9 82.0,300.8 86.5,302.8 89.0,301.5 91.0,300.1 95.0,298.0 100.7,295.4 105.0,294.0 109.5,293.1 113.0,293.7 114.6,296.1 115.8,300.0 116.9,311.9 118.9,326.4 120.0,330.0 121.6,325.3 123.2,321.8 124.5,321.5 125.6,333.0 126.6,316.0 128.3,301.5 131.5,296.1 136.5,292.4 142.0,290.3 148.9,288.6 155.0,287.7 161.3,286.9 170.0,286.2 174.9,286.9 180.0,287.3 187.3,287.9 193.0,287.1 199.7,286.2 207.0,285.3 214.6,284.4 223.3,284.9 224.6,289.9 225.8,306.0 227.0,317.5 228.3,302.0 230.0,296.8 232.0,299.8 235.0,318.4 237.0,307.3 239.4,301.1 241.9,302.3 244.4,312.2 246.9,303.5 249.4,302.3 251.4,322.1 253.1,306.0 255.6,303.5 258.0,306.0 259.8,314.7 261.0,306.0 262.3,320.9 263.8,307.3 266.2,306.0 268.7,322.1 270.5,309.7 272.2,322.1 274.2,312.2 276.7,314.7 279.1,312.2 280.4,318.4 282.1,319.7 283.6,347.0 284.6,364.3 286.6,340.8 288.6,338.3 289.8,348.2 292.0,324.6 294.5,307.3 296.5,324.6 299.0,312.2 301.5,303.5 304.5,302.8 308.4,314.7 310.9,307.3 313.4,305.3 316.9,308.5 319.3,318.4 321.3,314.7 324.3,314.2 325.5,314.5" fill="none" stroke="#4a4e62" stroke-width="0.6" stroke-linejoin="round" />
<text x="0" y="0" transform="translate(51.9,58.5) rotate(-90)" font-size="2.8" fill="#4a3a90" font-family="Liberation Sans" textLength="19.9" lengthAdjust="spacingAndGlyphs">8683.07848</text>
<line x1="50.9" y1="35.1" x2="50.9" y2="38.300000000000004" stroke="#e8a060" stroke-width="0.55" />
<text x="0" y="0" transform="translate(120.2,103) rotate(-90)" font-size="2.8" fill="#4a3a90" font-family="Liberation Sans" textLength="26.0" lengthAdjust="spacingAndGlyphs">531941.3008369</text>
<line x1="119.3" y1="73.5" x2="119.3" y2="76.7" stroke="#e8a060" stroke-width="0.55" />
<text x="0" y="0" transform="translate(123.8,100) rotate(-90)" font-size="2.8" fill="#4a3a90" font-family="Liberation Sans" textLength="20.0" lengthAdjust="spacingAndGlyphs">00712.84308</text>
<line x1="122.8" y1="76.5" x2="122.8" y2="79.7" stroke="#e8a060" stroke-width="0.55" />
<text x="0" y="0" transform="translate(127.2,103) rotate(-90)" font-size="2.8" fill="#4a3a90" font-family="Liberation Sans" textLength="26.0" lengthAdjust="spacingAndGlyphs">860915.2487053</text>
<line x1="126.2" y1="73.5" x2="126.2" y2="76.7" stroke="#e8a060" stroke-width="0.55" />
<text x="0" y="0" transform="translate(227.2,92) rotate(-90)" font-size="2.8" fill="#4a3a90" font-family="Liberation Sans" textLength="27.3" lengthAdjust="spacingAndGlyphs">318123.4207960</text>
<line x1="226.3" y1="61.2" x2="226.3" y2="64.4" stroke="#e8a060" stroke-width="0.55" />
<text x="0" y="0" transform="translate(252.0,90) rotate(-90)" font-size="2.8" fill="#4a3a90" font-family="Liberation Sans" textLength="25.3" lengthAdjust="spacingAndGlyphs">434988.607500</text>
<line x1="251.1" y1="61.2" x2="251.1" y2="64.4" stroke="#e8a060" stroke-width="0.55" />
<text x="0" y="0" transform="translate(260.2,72.1) rotate(-90)" font-size="2.8" fill="#4a3a90" font-family="Liberation Sans" textLength="24.8" lengthAdjust="spacingAndGlyphs">201017.018875</text>
<line x1="259.3" y1="43.8" x2="259.3" y2="47.0" stroke="#e8a060" stroke-width="0.55" />
<text x="0" y="0" transform="translate(263.2,101.9) rotate(-90)" font-size="2.8" fill="#4a3a90" font-family="Liberation Sans" textLength="33.5" lengthAdjust="spacingAndGlyphs">25156694.54356128</text>
<line x1="262.3" y1="64.9" x2="262.3" y2="68.10000000000001" stroke="#e8a060" stroke-width="0.55" />
<text x="0" y="0" transform="translate(268.9,92) rotate(-90)" font-size="2.8" fill="#4a3a90" font-family="Liberation Sans" textLength="26.1" lengthAdjust="spacingAndGlyphs">061920.5798609</text>
<line x1="268" y1="62.400000000000006" x2="268" y2="65.60000000000001" stroke="#e8a060" stroke-width="0.55" />
<text x="0" y="0" transform="translate(272.6,92) rotate(-90)" font-size="2.8" fill="#4a3a90" font-family="Liberation Sans" textLength="26.1" lengthAdjust="spacingAndGlyphs">605756.6703384</text>
<line x1="271.7" y1="62.400000000000006" x2="271.7" y2="65.60000000000001" stroke="#e8a060" stroke-width="0.55" />
<text x="0" y="0" transform="translate(278.8,88) rotate(-90)" font-size="2.8" fill="#4a3a90" font-family="Liberation Sans" textLength="26.0" lengthAdjust="spacingAndGlyphs">916362.0558417</text>
<line x1="277.9" y1="58.5" x2="277.9" y2="61.7" stroke="#e8a060" stroke-width="0.55" />
<text x="0" y="0" transform="translate(281.8,95) rotate(-90)" font-size="2.8" fill="#4a3a90" font-family="Liberation Sans" textLength="32.0" lengthAdjust="spacingAndGlyphs">18615981.90723608</text>
<line x1="280.9" y1="59.5" x2="280.9" y2="62.7" stroke="#e8a060" stroke-width="0.55" />
<text x="0" y="0" transform="translate(285.1,134) rotate(-90)" font-size="2.8" fill="#4a3a90" font-family="Liberation Sans" textLength="29.6" lengthAdjust="spacingAndGlyphs">1916205.1017494</text>
<line x1="284.1" y1="100.9" x2="284.1" y2="104.10000000000001" stroke="#e8a060" stroke-width="0.55" />
<text x="0" y="0" transform="translate(289.2,109.5) rotate(-90)" font-size="2.8" fill="#4a3a90" font-family="Liberation Sans" textLength="23.5" lengthAdjust="spacingAndGlyphs">10988.318180</text>
<line x1="288.3" y1="82.5" x2="288.3" y2="85.7" stroke="#e8a060" stroke-width="0.55" />
<text x="0" y="0" transform="translate(297.9,98.2) rotate(-90)" font-size="2.8" fill="#4a3a90" font-family="Liberation Sans" textLength="22.4" lengthAdjust="spacingAndGlyphs">85921.323796</text>
<line x1="297" y1="72.3" x2="297" y2="75.5" stroke="#e8a060" stroke-width="0.55" />
<text x="0" y="0" transform="translate(309.1,101.9) rotate(-90)" font-size="2.8" fill="#4a3a90" font-family="Liberation Sans" textLength="26.1" lengthAdjust="spacingAndGlyphs">459658.6168362</text>
<line x1="308.2" y1="72.3" x2="308.2" y2="75.5" stroke="#e8a060" stroke-width="0.55" />
<text x="0" y="0" transform="translate(320.2,85.8) rotate(-90)" font-size="2.8" fill="#4a3a90" font-family="Liberation Sans" textLength="26.1" lengthAdjust="spacingAndGlyphs">699872.6221778</text>
<line x1="319.3" y1="56.2" x2="319.3" y2="59.400000000000006" stroke="#e8a060" stroke-width="0.55" />
<text x="0" y="0" transform="translate(68.7,230) rotate(-90)" font-size="2.8" fill="#2a2a2a" font-family="Liberation Sans" textLength="21.4" lengthAdjust="spacingAndGlyphs">79224.32985</text>
<line x1="67.7" y1="205.1" x2="67.7" y2="208.29999999999998" stroke="#c9a0a0" stroke-width="0.55" />
<text x="0" y="0" transform="translate(88.5,218.8) rotate(-90)" font-size="2.8" fill="#2a2a2a" font-family="Liberation Sans" textLength="21.3" lengthAdjust="spacingAndGlyphs">38469.99434</text>
<line x1="87.5" y1="194.0" x2="87.5" y2="197.2" stroke="#c9a0a0" stroke-width="0.55" />
<text x="0" y="0" transform="translate(99.8,222) rotate(-90)" font-size="2.8" fill="#2a2a2a" font-family="Liberation Sans" textLength="25.0" lengthAdjust="spacingAndGlyphs">047632.953572</text>
<line x1="98.8" y1="193.5" x2="98.8" y2="196.7" stroke="#c9a0a0" stroke-width="0.55" />
<text x="0" y="0" transform="translate(102.2,222) rotate(-90)" font-size="2.8" fill="#2a2a2a" font-family="Liberation Sans" textLength="25.0" lengthAdjust="spacingAndGlyphs">679379.807160</text>
<line x1="101.2" y1="193.5" x2="101.2" y2="196.7" stroke="#c9a0a0" stroke-width="0.55" />
<text x="0" y="0" transform="translate(229.9,260.7) rotate(-90)" font-size="2.8" fill="#2a2a2a" font-family="Liberation Sans" textLength="22.3" lengthAdjust="spacingAndGlyphs">73313.433422</text>
<line x1="229" y1="234.9" x2="229" y2="238.1" stroke="#c9a0a0" stroke-width="0.55" />
<text x="0" y="0" transform="translate(242.1,260.7) rotate(-90)" font-size="2.8" fill="#2a2a2a" font-family="Liberation Sans" textLength="22.3" lengthAdjust="spacingAndGlyphs">90420.526111</text>
<line x1="241.2" y1="234.9" x2="241.2" y2="238.1" stroke="#c9a0a0" stroke-width="0.55" />
<text x="0" y="0" transform="translate(254.2,236.8) rotate(-90)" font-size="2.8" fill="#2a2a2a" font-family="Liberation Sans" textLength="20.6" lengthAdjust="spacingAndGlyphs">14405.79500</text>
<line x1="253.3" y1="212.7" x2="253.3" y2="215.89999999999998" stroke="#c9a0a0" stroke-width="0.55" />
<text x="0" y="0" transform="translate(262.1,229.5) rotate(-90)" font-size="2.8" fill="#2a2a2a" font-family="Liberation Sans" textLength="23.1" lengthAdjust="spacingAndGlyphs">55667.139762</text>
<line x1="261.1" y1="202.9" x2="261.1" y2="206.1" stroke="#c9a0a0" stroke-width="0.55" />
<text x="0" y="0" transform="translate(269.2,233.8) rotate(-90)" font-size="2.8" fill="#2a2a2a" font-family="Liberation Sans" textLength="23.8" lengthAdjust="spacingAndGlyphs">85141.617841</text>
<line x1="268.3" y1="206.5" x2="268.3" y2="209.7" stroke="#c9a0a0" stroke-width="0.55" />
<text x="0" y="0" transform="translate(276.2,221) rotate(-90)" font-size="2.8" fill="#2a2a2a" font-family="Liberation Sans" textLength="22.5" lengthAdjust="spacingAndGlyphs">85574.415988</text>
<line x1="275.3" y1="195.0" x2="275.3" y2="198.2" stroke="#c9a0a0" stroke-width="0.55" />
<text x="0" y="0" transform="translate(286.6,225.9) rotate(-90)" font-size="2.8" fill="#2a2a2a" font-family="Liberation Sans" textLength="23.1" lengthAdjust="spacingAndGlyphs">17850.492225</text>
<line x1="285.7" y1="199.3" x2="285.7" y2="202.5" stroke="#c9a0a0" stroke-width="0.55" />
<text x="0" y="0" transform="translate(77.2,327) rotate(-90)" font-size="2.8" fill="#2a2a2a" font-family="Liberation Sans" textLength="25.0" lengthAdjust="spacingAndGlyphs">711825.968427</text>
<line x1="76.2" y1="298.5" x2="76.2" y2="301.7" stroke="#c9a0a0" stroke-width="0.55" />
<text x="0" y="0" transform="translate(87.4,329.6) rotate(-90)" font-size="2.8" fill="#2a2a2a" font-family="Liberation Sans" textLength="24.6" lengthAdjust="spacingAndGlyphs">742112.889651</text>
<line x1="86.4" y1="301.5" x2="86.4" y2="304.7" stroke="#c9a0a0" stroke-width="0.55" />
<text x="0" y="0" transform="translate(121.2,365.6) rotate(-90)" font-size="2.8" fill="#2a2a2a" font-family="Liberation Sans" textLength="28.6" lengthAdjust="spacingAndGlyphs">4460207.8438556</text>
<line x1="120.3" y1="333.5" x2="120.3" y2="336.7" stroke="#c9a0a0" stroke-width="0.55" />
<text x="0" y="0" transform="translate(127.5,360.6) rotate(-90)" font-size="2.8" fill="#2a2a2a" font-family="Liberation Sans" textLength="26.0" lengthAdjust="spacingAndGlyphs">781571.2491191</text>
<line x1="126.6" y1="331.1" x2="126.6" y2="334.3" stroke="#c9a0a0" stroke-width="0.55" />
<text x="0" y="0" transform="translate(228.1,334.7) rotate(-90)" font-size="2.8" fill="#2a2a2a" font-family="Liberation Sans" textLength="12.1" lengthAdjust="spacingAndGlyphs">239.662</text>
<line x1="227.2" y1="319.1" x2="227.2" y2="322.3" stroke="#c9a0a0" stroke-width="0.55" />
<text x="0" y="0" transform="translate(237.3,338.4) rotate(-90)" font-size="2.8" fill="#2a2a2a" font-family="Liberation Sans" textLength="14.6" lengthAdjust="spacingAndGlyphs">992.6388</text>
<line x1="236.4" y1="320.3" x2="236.4" y2="323.5" stroke="#c9a0a0" stroke-width="0.55" />
<text x="0" y="0" transform="translate(245.1,338.4) rotate(-90)" font-size="2.8" fill="#2a2a2a" font-family="Liberation Sans" textLength="20.7" lengthAdjust="spacingAndGlyphs">29234.54076</text>
<line x1="244.2" y1="314.2" x2="244.2" y2="317.4" stroke="#c9a0a0" stroke-width="0.55" />
<text x="0" y="0" transform="translate(252.4,350.6) rotate(-90)" font-size="2.8" fill="#2a2a2a" font-family="Liberation Sans" textLength="25.6" lengthAdjust="spacingAndGlyphs">658947.847093</text>
<line x1="251.5" y1="321.5" x2="251.5" y2="324.7" stroke="#c9a0a0" stroke-width="0.55" />
<text x="0" y="0" transform="translate(261.2,355.4) rotate(-90)" font-size="2.8" fill="#2a2a2a" font-family="Liberation Sans" textLength="41.4" lengthAdjust="spacingAndGlyphs">0137287338.3087194227</text>
<line x1="260.3" y1="310.5" x2="260.3" y2="313.7" stroke="#c9a0a0" stroke-width="0.55" />
<text x="0" y="0" transform="translate(263.6,352) rotate(-90)" font-size="2.8" fill="#2a2a2a" font-family="Liberation Sans" textLength="34.0" lengthAdjust="spacingAndGlyphs">19005938.178055552</text>
<line x1="262.6" y1="314.5" x2="262.6" y2="317.7" stroke="#c9a0a0" stroke-width="0.55" />
<text x="0" y="0" transform="translate(268.2,353) rotate(-90)" font-size="2.8" fill="#2a2a2a" font-family="Liberation Sans" textLength="34.0" lengthAdjust="spacingAndGlyphs">19015313.637510613</text>
<line x1="267.3" y1="315.5" x2="267.3" y2="318.7" stroke="#c9a0a0" stroke-width="0.55" />
<text x="0" y="0" transform="translate(272.3,351.8) rotate(-90)" font-size="2.8" fill="#2a2a2a" font-family="Liberation Sans" textLength="29.2" lengthAdjust="spacingAndGlyphs">2677186.3740776</text>
<line x1="271.4" y1="319.1" x2="271.4" y2="322.3" stroke="#c9a0a0" stroke-width="0.55" />
<text x="0" y="0" transform="translate(279.6,345.7) rotate(-90)" font-size="2.8" fill="#2a2a2a" font-family="Liberation Sans" textLength="25.7" lengthAdjust="spacingAndGlyphs">727045.578596</text>
<line x1="278.7" y1="316.5" x2="278.7" y2="319.7" stroke="#c9a0a0" stroke-width="0.55" />
<text x="0" y="0" transform="translate(281.8,349) rotate(-90)" font-size="2.8" fill="#2a2a2a" font-family="Liberation Sans" textLength="29.0" lengthAdjust="spacingAndGlyphs">3034527.8323029</text>
<line x1="280.8" y1="316.5" x2="280.8" y2="319.7" stroke="#c9a0a0" stroke-width="0.55" />
<text x="0" y="0" transform="translate(284.6,380) rotate(-90)" font-size="2.8" fill="#2a2a2a" font-family="Liberation Sans" textLength="15.5" lengthAdjust="spacingAndGlyphs">682.0219</text>
<line x1="283.6" y1="361.0" x2="283.6" y2="364.2" stroke="#c9a0a0" stroke-width="0.55" />
<text x="0" y="0" transform="translate(288.9,364) rotate(-90)" font-size="2.8" fill="#2a2a2a" font-family="Liberation Sans" textLength="18.3" lengthAdjust="spacingAndGlyphs">2772.00675</text>
<line x1="288" y1="342.2" x2="288" y2="345.4" stroke="#c9a0a0" stroke-width="0.55" />
<text x="0" y="0" transform="translate(297.4,350.6) rotate(-90)" font-size="2.8" fill="#2a2a2a" font-family="Liberation Sans" textLength="23.2" lengthAdjust="spacingAndGlyphs">60036.067033</text>
<line x1="296.5" y1="323.9" x2="296.5" y2="327.09999999999997" stroke="#c9a0a0" stroke-width="0.55" />
<text x="0" y="0" transform="translate(308.9,350.6) rotate(-90)" font-size="2.8" fill="#2a2a2a" font-family="Liberation Sans" textLength="21.9" lengthAdjust="spacingAndGlyphs">16732.59151</text>
<line x1="308" y1="325.2" x2="308" y2="328.4" stroke="#c9a0a0" stroke-width="0.55" />
<text x="0" y="0" transform="translate(320.6,348) rotate(-90)" font-size="2.8" fill="#2a2a2a" font-family="Liberation Sans" textLength="25.4" lengthAdjust="spacingAndGlyphs">904474.738405</text>
<line x1="319.6" y1="319.1" x2="319.6" y2="322.3" stroke="#c9a0a0" stroke-width="0.55" />
<line x1="78.2" y1="216.5" x2="70.7" y2="207.6" stroke="#222" stroke-width="0.6" />
<line x1="70.7" y1="207.6" x2="71.29432472041373" y2="209.92524797101407" stroke="#222" stroke-width="0.6" />
<line x1="70.7" y1="207.6" x2="72.89086747785089" y2="208.5798467709266" stroke="#222" stroke-width="0.6" />
<line x1="239.4" y1="244.6" x2="231.5" y2="235.2" stroke="#222" stroke-width="0.6" />
<line x1="231.5" y1="235.2" x2="232.09123276191474" y2="237.52603607479304" stroke="#222" stroke-width="0.6" />
<line x1="231.5" y1="235.2" x2="233.6895628285241" y2="236.18275867838733" stroke="#222" stroke-width="0.6" />
<line x1="256.3" y1="253.3" x2="249.4" y2="245.8" stroke="#222" stroke-width="0.6" />
<line x1="249.4" y1="245.8" x2="250.0949175176959" y2="248.0971916862986" stroke="#222" stroke-width="0.6" />
<line x1="249.4" y1="245.8" x2="251.6314197205759" y2="246.683609659649" stroke="#222" stroke-width="0.6" />
<line x1="97.3" y1="314.7" x2="90.6" y2="306" stroke="#222" stroke-width="0.6" />
<line x1="90.6" y1="306" x2="91.09150003569832" y2="308.34913339657595" stroke="#222" stroke-width="0.6" />
<line x1="90.6" y1="306" x2="92.74566072543803" y2="307.0752395320638" stroke="#222" stroke-width="0.6" />
<line x1="243.9" y1="347" x2="237" y2="339.5" stroke="#222" stroke-width="0.6" />
<line x1="237" y1="339.5" x2="237.6949175176959" y2="341.7971916862986" stroke="#222" stroke-width="0.6" />
<line x1="237" y1="339.5" x2="239.2314197205759" y2="340.383609659649" stroke="#222" stroke-width="0.6" />
<text x="25.3" y="28.9" font-size="5.9" fill="#1c2560" font-weight="bold" font-family="Liberation Serif" textLength="36.6" lengthAdjust="spacingAndGlyphs">MYR CPX SLKs</text>
<text x="26.9" y="162.1" font-size="5.9" fill="#1f3070" font-weight="bold" font-family="Liberation Serif" textLength="28.2" lengthAdjust="spacingAndGlyphs">Lactoferrin</text>
<text x="26.8" y="348.5" font-size="6.0" fill="#1c2560" font-weight="bold" font-family="Liberation Serif" textLength="60.6" lengthAdjust="spacingAndGlyphs">Lf-MYR CPX-SLNs (F6)</text>
<g class="gp">
<rect x="333.7" y="22.7" width="347.8" height="199.7" fill="#fff" stroke="#555" stroke-width="1.15"/>
<line x1="370.0" y1="178.5" x2="673.36" y2="178.5" stroke="#e4e4e4" stroke-width="0.7" />
<line x1="370.0" y1="162.6" x2="673.36" y2="162.6" stroke="#e4e4e4" stroke-width="0.7" />
<line x1="370.0" y1="146.7" x2="673.36" y2="146.7" stroke="#f3f3f3" stroke-width="0.7" />
<line x1="370.0" y1="130.8" x2="673.36" y2="130.8" stroke="#e4e4e4" stroke-width="0.7" />
<line x1="370.0" y1="114.9" x2="673.36" y2="114.9" stroke="#e4e4e4" stroke-width="0.7" />
<line x1="370.0" y1="99.0" x2="673.36" y2="99.0" stroke="#e4e4e4" stroke-width="0.7" />
<line x1="370.0" y1="83.1" x2="673.36" y2="83.1" stroke="#e4e4e4" stroke-width="0.7" />
<line x1="370.0" y1="67.2" x2="673.36" y2="67.2" stroke="#e4e4e4" stroke-width="0.7" />
<line x1="370.0" y1="51.30000000000001" x2="673.36" y2="51.30000000000001" stroke="#e4e4e4" stroke-width="0.7" />
<line x1="395.28" y1="34.3" x2="395.28" y2="194.4" stroke="#e6e6e6" stroke-width="0.7" />
<line x1="420.56" y1="34.3" x2="420.56" y2="194.4" stroke="#e6e6e6" stroke-width="0.7" />
<line x1="445.84000000000003" y1="34.3" x2="445.84000000000003" y2="194.4" stroke="#e6e6e6" stroke-width="0.7" />
<line x1="471.12" y1="34.3" x2="471.12" y2="194.4" stroke="#e6e6e6" stroke-width="0.7" />
<line x1="496.4" y1="34.3" x2="496.4" y2="194.4" stroke="#e6e6e6" stroke-width="0.7" />
<line x1="521.6800000000001" y1="34.3" x2="521.6800000000001" y2="194.4" stroke="#e6e6e6" stroke-width="0.7" />
<line x1="546.96" y1="34.3" x2="546.96" y2="194.4" stroke="#e6e6e6" stroke-width="0.7" />
<line x1="572.24" y1="34.3" x2="572.24" y2="194.4" stroke="#e6e6e6" stroke-width="0.7" />
<line x1="597.52" y1="34.3" x2="597.52" y2="194.4" stroke="#e6e6e6" stroke-width="0.7" />
<line x1="622.8" y1="34.3" x2="622.8" y2="194.4" stroke="#e6e6e6" stroke-width="0.7" />
<line x1="648.08" y1="34.3" x2="648.08" y2="194.4" stroke="#e6e6e6" stroke-width="0.7" />
<line x1="673.36" y1="34.3" x2="673.36" y2="194.4" stroke="#e6e6e6" stroke-width="0.7" />
<line x1="370.0" y1="194.4" x2="673.36" y2="194.4" stroke="#d6d6d6" stroke-width="0.8" />
<line x1="370.0" y1="34.3" x2="370.0" y2="194.4" stroke="#e6e6e6" stroke-width="0.7" />
<text x="363.0" y="196.9" font-size="6.6" fill="#111" font-weight="bold" text-anchor="end" font-family="Liberation Sans" >0</text>
<text x="363.0" y="181.0" font-size="6.6" fill="#111" font-weight="bold" text-anchor="end" font-family="Liberation Sans" >10</text>
<text x="363.0" y="165.1" font-size="6.6" fill="#111" font-weight="bold" text-anchor="end" font-family="Liberation Sans" >20</text>
<text x="363.0" y="149.2" font-size="6.6" fill="#111" font-weight="bold" text-anchor="end" font-family="Liberation Sans" >30</text>
<text x="363.0" y="133.3" font-size="6.6" fill="#111" font-weight="bold" text-anchor="end" font-family="Liberation Sans" >40</text>
<text x="363.0" y="117.4" font-size="6.6" fill="#111" font-weight="bold" text-anchor="end" font-family="Liberation Sans" >50</text>
<text x="363.0" y="101.5" font-size="6.6" fill="#111" font-weight="bold" text-anchor="end" font-family="Liberation Sans" >60</text>
<text x="363.0" y="85.6" font-size="6.6" fill="#111" font-weight="bold" text-anchor="end" font-family="Liberation Sans" >70</text>
<text x="363.0" y="69.7" font-size="6.6" fill="#111" font-weight="bold" text-anchor="end" font-family="Liberation Sans" >80</text>
<text x="363.0" y="53.80000000000001" font-size="6.6" fill="#111" font-weight="bold" text-anchor="end" font-family="Liberation Sans" >90</text>
<text x="363.0" y="37.900000000000006" font-size="6.6" fill="#111" font-weight="bold" text-anchor="end" font-family="Liberation Sans" >100</text>
<text x="370.0" y="205.2" font-size="6.0" fill="#111" font-weight="bold" text-anchor="middle" font-family="Liberation Sans" >0</text>
<text x="395.28" y="205.2" font-size="6.0" fill="#111" font-weight="bold" text-anchor="middle" font-family="Liberation Sans" >2</text>
<text x="420.56" y="205.2" font-size="6.0" fill="#111" font-weight="bold" text-anchor="middle" font-family="Liberation Sans" >4</text>
<text x="445.84000000000003" y="205.2" font-size="6.0" fill="#111" font-weight="bold" text-anchor="middle" font-family="Liberation Sans" >6</text>
<text x="471.12" y="205.2" font-size="6.0" fill="#111" font-weight="bold" text-anchor="middle" font-family="Liberation Sans" >8</text>
<text x="496.4" y="205.2" font-size="6.0" fill="#111" font-weight="bold" text-anchor="middle" font-family="Liberation Sans" >10</text>
<text x="521.6800000000001" y="205.2" font-size="6.0" fill="#111" font-weight="bold" text-anchor="middle" font-family="Liberation Sans" >12</text>
<text x="546.96" y="205.2" font-size="6.0" fill="#111" font-weight="bold" text-anchor="middle" font-family="Liberation Sans" >14</text>
<text x="572.24" y="205.2" font-size="6.0" fill="#111" font-weight="bold" text-anchor="middle" font-family="Liberation Sans" >16</text>
<text x="597.52" y="205.2" font-size="6.0" fill="#111" font-weight="bold" text-anchor="middle" font-family="Liberation Sans" >18</text>
<text x="622.8" y="205.2" font-size="6.0" fill="#111" font-weight="bold" text-anchor="middle" font-family="Liberation Sans" >20</text>
<text x="648.08" y="205.2" font-size="6.0" fill="#111" font-weight="bold" text-anchor="middle" font-family="Liberation Sans" >22</text>
<text x="673.36" y="205.2" font-size="6.0" fill="#111" font-weight="bold" text-anchor="middle" font-family="Liberation Sans" >24</text>
<text x="509.4" y="214.8" font-size="6.9" fill="#111" font-weight="bold" text-anchor="middle" font-family="Liberation Sans" >Time (h)</text>
<text x="0" y="0" transform="translate(348.0,117.3) rotate(-90)" font-size="6.55" fill="#111" font-weight="bold" text-anchor="middle" font-family="Liberation Sans" >% Released of Myricetin</text>
<polyline points="370.0,194.4 382.6,156.7 395.3,138.6 420.6,125.6 445.8,106.8 471.1,96.5" fill="none" stroke="#7a4bb5" stroke-width="1.1" stroke-linejoin="round" />
<polyline points="370.0,194.4 382.6,162.8 395.3,143.0 420.6,127.9 445.8,111.9 471.1,102.7" fill="none" stroke="#ee2222" stroke-width="1.1" stroke-linejoin="round" />
<line x1="471.12" y1="96.456" x2="673.36" y2="80.39699999999999" stroke="#7a4bb5" stroke-width="1.1" stroke-dasharray="3.1,2.9" stroke-dashoffset="0.9"/>
<line x1="471.12" y1="102.657" x2="673.36" y2="86.598" stroke="#ee2222" stroke-width="1.1" stroke-dasharray="3.1,2.9" stroke-dashoffset="0.9"/>
<rect x="381.7" y="155.8" width="1.8" height="1.8" fill="#666" transform="rotate(45 382.6 156.7)"/>
<rect x="394.4" y="137.7" width="1.8" height="1.8" fill="#666" transform="rotate(45 395.3 138.6)"/>
<rect x="419.7" y="124.7" width="1.8" height="1.8" fill="#666" transform="rotate(45 420.6 125.6)"/>
<rect x="444.9" y="105.9" width="1.8" height="1.8" fill="#666" transform="rotate(45 445.8 106.8)"/>
<rect x="470.2" y="95.6" width="1.8" height="1.8" fill="#666" transform="rotate(45 471.1 96.5)"/>
<rect x="672.5" y="79.5" width="1.8" height="1.8" fill="#666" transform="rotate(45 673.4 80.4)"/>
<rect x="381.7" y="161.9" width="1.8" height="1.8" fill="#666" transform="rotate(45 382.6 162.8)"/>
<rect x="394.4" y="142.1" width="1.8" height="1.8" fill="#666" transform="rotate(45 395.3 143.0)"/>
<rect x="419.7" y="127.0" width="1.8" height="1.8" fill="#666" transform="rotate(45 420.6 127.9)"/>
<rect x="444.9" y="111.0" width="1.8" height="1.8" fill="#666" transform="rotate(45 445.8 111.9)"/>
<rect x="470.2" y="101.8" width="1.8" height="1.8" fill="#666" transform="rotate(45 471.1 102.7)"/>
<rect x="672.5" y="85.7" width="1.8" height="1.8" fill="#666" transform="rotate(45 673.4 86.6)"/>
<line x1="382.64" y1="153.537" x2="382.64" y2="159.897" stroke="#555" stroke-width="0.5" />
<line x1="395.28" y1="134.61599999999999" x2="395.28" y2="142.566" stroke="#555" stroke-width="0.5" />
<line x1="420.56" y1="123.168" x2="420.56" y2="127.938" stroke="#555" stroke-width="0.5" />
<line x1="445.84000000000003" y1="105.201" x2="445.84000000000003" y2="108.381" stroke="#555" stroke-width="0.5" />
<line x1="471.12" y1="94.866" x2="471.12" y2="98.04599999999999" stroke="#555" stroke-width="0.5" />
<line x1="673.36" y1="78.012" x2="673.36" y2="82.782" stroke="#555" stroke-width="0.5" />
<line x1="382.64" y1="160.37400000000002" x2="382.64" y2="165.144" stroke="#555" stroke-width="0.5" />
<line x1="395.28" y1="140.65800000000002" x2="395.28" y2="145.428" stroke="#555" stroke-width="0.5" />
<line x1="420.56" y1="125.55300000000001" x2="420.56" y2="130.323" stroke="#555" stroke-width="0.5" />
<line x1="445.84000000000003" y1="110.289" x2="445.84000000000003" y2="113.46900000000001" stroke="#555" stroke-width="0.5" />
<line x1="471.12" y1="100.749" x2="471.12" y2="104.565" stroke="#555" stroke-width="0.5" />
<line x1="673.36" y1="84.21300000000001" x2="673.36" y2="88.983" stroke="#555" stroke-width="0.5" />
<line x1="388.8" y1="43.4" x2="394.6" y2="43.4" stroke="#7a4bb5" stroke-width="1" />
<line x1="391.7" y1="42.6" x2="391.7" y2="44.2" stroke="#7a4bb5" stroke-width="0.6" />
<text x="394.8" y="46.1" font-size="6.5" fill="#111" font-weight="bold" text-anchor="start" font-family="Liberation Sans" >MYR-CPX-SLNs</text>
<line x1="388.8" y1="58.0" x2="394.6" y2="58.0" stroke="#ee2222" stroke-width="1" />
<line x1="391.7" y1="57.2" x2="391.7" y2="58.8" stroke="#ee2222" stroke-width="0.6" />
<text x="394.8" y="60.6" font-size="6.5" fill="#111" font-weight="bold" text-anchor="start" font-family="Liberation Sans" >Lf-MYR-CPX-SLNs</text>
<rect x="335.4" y="225.4" width="349.1" height="185" fill="#fff"/>
<line x1="335.4" y1="225.4" x2="335.4" y2="410.4" stroke="#8a8a8a" stroke-width="1.2" />
<line x1="334.8" y1="225.4" x2="685" y2="225.4" stroke="#1a1a1a" stroke-width="1.1" />
<line x1="684.4" y1="225" x2="684.4" y2="411" stroke="#1a1a1a" stroke-width="1.2" />
<line x1="334.8" y1="410.4" x2="685" y2="410.4" stroke="#111" stroke-width="1.2" />
<text x="0" y="0" transform="translate(348.9,243.4) scale(0.82,1)" stroke="#000" stroke-width="0.45" font-size="18.8" font-weight="bold" text-anchor="middle" font-family="Liberation Sans">C</text>
<line x1="370.5" y1="366.5" x2="668" y2="366.5" stroke="#eaeaea" stroke-width="0.7" />
<line x1="370.5" y1="354.5" x2="668" y2="354.5" stroke="#eaeaea" stroke-width="0.7" />
<line x1="370.5" y1="342.5" x2="668" y2="342.5" stroke="#eaeaea" stroke-width="0.7" />
<line x1="370.5" y1="330.5" x2="668" y2="330.5" stroke="#eaeaea" stroke-width="0.7" />
<line x1="370.5" y1="318.5" x2="668" y2="318.5" stroke="#eaeaea" stroke-width="0.7" />
<line x1="370.5" y1="306.5" x2="668" y2="306.5" stroke="#eaeaea" stroke-width="0.7" />
<line x1="370.5" y1="294.5" x2="668" y2="294.5" stroke="#eaeaea" stroke-width="0.7" />
<line x1="370.5" y1="282.5" x2="668" y2="282.5" stroke="#eaeaea" stroke-width="0.7" />
<line x1="370.5" y1="270.5" x2="668" y2="270.5" stroke="#eaeaea" stroke-width="0.7" />
<line x1="370.5" y1="258.5" x2="668" y2="258.5" stroke="#eaeaea" stroke-width="0.7" />
<line x1="370.5" y1="246.5" x2="668" y2="246.5" stroke="#eaeaea" stroke-width="0.7" />
<line x1="370.5" y1="378.5" x2="668" y2="378.5" stroke="#dcdcdc" stroke-width="0.8" />
<line x1="370.5" y1="246.5" x2="370.5" y2="378.5" stroke="#e2e2e2" stroke-width="0.8" />
<line x1="368.3" y1="378.5" x2="370.5" y2="378.5" stroke="#d4d4d4" stroke-width="0.7" />
<text x="365.3" y="380.6" font-size="6.3" fill="#111" font-weight="bold" text-anchor="end" font-family="Liberation Sans" >0</text>
<line x1="368.3" y1="366.5" x2="370.5" y2="366.5" stroke="#d4d4d4" stroke-width="0.7" />
<text x="365.3" y="368.6" font-size="6.3" fill="#111" font-weight="bold" text-anchor="end" font-family="Liberation Sans" >10</text>
<line x1="368.3" y1="354.5" x2="370.5" y2="354.5" stroke="#d4d4d4" stroke-width="0.7" />
<text x="365.3" y="356.6" font-size="6.3" fill="#111" font-weight="bold" text-anchor="end" font-family="Liberation Sans" >20</text>
<line x1="368.3" y1="342.5" x2="370.5" y2="342.5" stroke="#d4d4d4" stroke-width="0.7" />
<text x="365.3" y="344.6" font-size="6.3" fill="#111" font-weight="bold" text-anchor="end" font-family="Liberation Sans" >30</text>
<line x1="368.3" y1="330.5" x2="370.5" y2="330.5" stroke="#d4d4d4" stroke-width="0.7" />
<text x="365.3" y="332.6" font-size="6.3" fill="#111" font-weight="bold" text-anchor="end" font-family="Liberation Sans" >40</text>
<line x1="368.3" y1="318.5" x2="370.5" y2="318.5" stroke="#d4d4d4" stroke-width="0.7" />
<text x="365.3" y="320.6" font-size="6.3" fill="#111" font-weight="bold" text-anchor="end" font-family="Liberation Sans" >50</text>
<line x1="368.3" y1="306.5" x2="370.5" y2="306.5" stroke="#d4d4d4" stroke-width="0.7" />
<text x="365.3" y="308.6" font-size="6.3" fill="#111" font-weight="bold" text-anchor="end" font-family="Liberation Sans" >60</text>
<line x1="368.3" y1="294.5" x2="370.5" y2="294.5" stroke="#d4d4d4" stroke-width="0.7" />
<text x="365.3" y="296.6" font-size="6.3" fill="#111" font-weight="bold" text-anchor="end" font-family="Liberation Sans" >70</text>
<line x1="368.3" y1="282.5" x2="370.5" y2="282.5" stroke="#d4d4d4" stroke-width="0.7" />
<text x="365.3" y="284.6" font-size="6.3" fill="#111" font-weight="bold" text-anchor="end" font-family="Liberation Sans" >80</text>
<line x1="368.3" y1="270.5" x2="370.5" y2="270.5" stroke="#d4d4d4" stroke-width="0.7" />
<text x="365.3" y="272.6" font-size="6.3" fill="#111" font-weight="bold" text-anchor="end" font-family="Liberation Sans" >90</text>
<line x1="368.3" y1="258.5" x2="370.5" y2="258.5" stroke="#d4d4d4" stroke-width="0.7" />
<text x="365.3" y="260.6" font-size="6.3" fill="#111" font-weight="bold" text-anchor="end" font-family="Liberation Sans" >100</text>
<line x1="368.3" y1="246.5" x2="370.5" y2="246.5" stroke="#d4d4d4" stroke-width="0.7" />
<text x="365.3" y="248.6" font-size="6.3" fill="#111" font-weight="bold" text-anchor="end" font-family="Liberation Sans" >110</text>
<line x1="370.8" y1="378.5" x2="370.8" y2="380.5" stroke="#d4d4d4" stroke-width="0.7" />
<text x="370.8" y="387.8" font-size="6.2" fill="#111" font-weight="bold" text-anchor="middle" font-family="Liberation Sans" >1</text>
<line x1="469.5" y1="378.5" x2="469.5" y2="380.5" stroke="#d4d4d4" stroke-width="0.7" />
<text x="469.5" y="387.8" font-size="6.2" fill="#111" font-weight="bold" text-anchor="middle" font-family="Liberation Sans" >10</text>
<line x1="568.2" y1="378.5" x2="568.2" y2="380.5" stroke="#d4d4d4" stroke-width="0.7" />
<text x="568.2" y="387.8" font-size="6.2" fill="#111" font-weight="bold" text-anchor="middle" font-family="Liberation Sans" >100</text>
<line x1="666.9000000000001" y1="378.5" x2="666.9000000000001" y2="380.5" stroke="#d4d4d4" stroke-width="0.7" />
<text x="666.9000000000001" y="387.8" font-size="6.2" fill="#111" font-weight="bold" text-anchor="middle" font-family="Liberation Sans" >1000</text>
<text x="514" y="399.6" font-size="7.9" fill="#111" font-weight="bold" text-anchor="middle" font-family="Liberation Sans" >Drug concentration on log scale</text>
<text x="0" y="0" transform="translate(348.3,318.7) rotate(-90)" font-size="7.9" fill="#111" font-weight="bold" text-anchor="middle" font-family="Liberation Sans" >% Viability</text>
<polyline points="469.5,259.7 499.2,271.7 528.9,277.7 538.5,287.3 546.3,296.9 558.6,307.7 568.2,316.1 597.9,326.9" fill="none" stroke="#9bbb59" stroke-width="1.3" stroke-linejoin="round" />
<line x1="469.5" y1="257.09999999999997" x2="469.5" y2="262.3" stroke="#666" stroke-width="0.5" />
<line x1="468.6" y1="257.09999999999997" x2="470.4" y2="257.09999999999997" stroke="#666" stroke-width="0.5" />
<line x1="468.6" y1="262.3" x2="470.4" y2="262.3" stroke="#666" stroke-width="0.5" />
<rect x="468.2" y="258.4" width="2.6" height="2.6" fill="#9bbb59" transform="rotate(45 469.5 259.7)"/>
<line x1="499.21166057203493" y1="269.09999999999997" x2="499.21166057203493" y2="274.3" stroke="#666" stroke-width="0.5" />
<line x1="498.31166057203495" y1="269.09999999999997" x2="500.1116605720349" y2="269.09999999999997" stroke="#666" stroke-width="0.5" />
<line x1="498.31166057203495" y1="274.3" x2="500.1116605720349" y2="274.3" stroke="#666" stroke-width="0.5" />
<rect x="497.9" y="270.4" width="2.6" height="2.6" fill="#9bbb59" transform="rotate(45 499.2 271.7)"/>
<line x1="528.9233211440699" y1="275.09999999999997" x2="528.9233211440699" y2="280.3" stroke="#666" stroke-width="0.5" />
<line x1="528.0233211440699" y1="275.09999999999997" x2="529.8233211440698" y2="275.09999999999997" stroke="#666" stroke-width="0.5" />
<line x1="528.0233211440699" y1="280.3" x2="529.8233211440698" y2="280.3" stroke="#666" stroke-width="0.5" />
<rect x="527.6" y="276.4" width="2.6" height="2.6" fill="#9bbb59" transform="rotate(45 528.9 277.7)"/>
<line x1="538.488339427965" y1="284.7" x2="538.488339427965" y2="289.90000000000003" stroke="#666" stroke-width="0.5" />
<line x1="537.588339427965" y1="284.7" x2="539.388339427965" y2="284.7" stroke="#666" stroke-width="0.5" />
<line x1="537.588339427965" y1="289.90000000000003" x2="539.388339427965" y2="289.90000000000003" stroke="#666" stroke-width="0.5" />
<rect x="537.2" y="286.0" width="2.6" height="2.6" fill="#9bbb59" transform="rotate(45 538.5 287.3)"/>
<line x1="546.3035284128656" y1="294.29999999999995" x2="546.3035284128656" y2="299.5" stroke="#666" stroke-width="0.5" />
<line x1="545.4035284128656" y1="294.29999999999995" x2="547.2035284128656" y2="294.29999999999995" stroke="#666" stroke-width="0.5" />
<line x1="545.4035284128656" y1="299.5" x2="547.2035284128656" y2="299.5" stroke="#666" stroke-width="0.5" />
<rect x="545.0" y="295.6" width="2.6" height="2.6" fill="#9bbb59" transform="rotate(45 546.3 296.9)"/>
<line x1="558.6349817161049" y1="305.09999999999997" x2="558.6349817161049" y2="310.3" stroke="#666" stroke-width="0.5" />
<line x1="557.7349817161049" y1="305.09999999999997" x2="559.5349817161049" y2="305.09999999999997" stroke="#666" stroke-width="0.5" />
<line x1="557.7349817161049" y1="310.3" x2="559.5349817161049" y2="310.3" stroke="#666" stroke-width="0.5" />
<rect x="557.3" y="306.4" width="2.6" height="2.6" fill="#9bbb59" transform="rotate(45 558.6 307.7)"/>
<line x1="568.2" y1="313.5" x2="568.2" y2="318.70000000000005" stroke="#666" stroke-width="0.5" />
<line x1="567.3000000000001" y1="313.5" x2="569.1" y2="313.5" stroke="#666" stroke-width="0.5" />
<line x1="567.3000000000001" y1="318.70000000000005" x2="569.1" y2="318.70000000000005" stroke="#666" stroke-width="0.5" />
<rect x="566.9" y="314.8" width="2.6" height="2.6" fill="#9bbb59" transform="rotate(45 568.2 316.1)"/>
<line x1="597.911660572035" y1="324.29999999999995" x2="597.911660572035" y2="329.5" stroke="#666" stroke-width="0.5" />
<line x1="597.011660572035" y1="324.29999999999995" x2="598.811660572035" y2="324.29999999999995" stroke="#666" stroke-width="0.5" />
<line x1="597.011660572035" y1="329.5" x2="598.811660572035" y2="329.5" stroke="#666" stroke-width="0.5" />
<rect x="596.6" y="325.6" width="2.6" height="2.6" fill="#9bbb59" transform="rotate(45 597.9 326.9)"/>
<polyline points="469.5,268.1 499.2,283.7 528.9,294.5 538.5,304.1 546.3,316.1 558.6,325.7 568.2,340.1 597.9,350.9" fill="none" stroke="#4f81bd" stroke-width="1.3" stroke-linejoin="round" />
<line x1="469.5" y1="265.5" x2="469.5" y2="270.70000000000005" stroke="#666" stroke-width="0.5" />
<line x1="468.6" y1="265.5" x2="470.4" y2="265.5" stroke="#666" stroke-width="0.5" />
<line x1="468.6" y1="270.70000000000005" x2="470.4" y2="270.70000000000005" stroke="#666" stroke-width="0.5" />
<rect x="468.2" y="266.8" width="2.6" height="2.6" fill="#4f81bd" transform="rotate(45 469.5 268.1)"/>
<line x1="499.21166057203493" y1="281.09999999999997" x2="499.21166057203493" y2="286.3" stroke="#666" stroke-width="0.5" />
<line x1="498.31166057203495" y1="281.09999999999997" x2="500.1116605720349" y2="281.09999999999997" stroke="#666" stroke-width="0.5" />
<line x1="498.31166057203495" y1="286.3" x2="500.1116605720349" y2="286.3" stroke="#666" stroke-width="0.5" />
<rect x="497.9" y="282.4" width="2.6" height="2.6" fill="#4f81bd" transform="rotate(45 499.2 283.7)"/>
<line x1="528.9233211440699" y1="291.9" x2="528.9233211440699" y2="297.1" stroke="#666" stroke-width="0.5" />
<line x1="528.0233211440699" y1="291.9" x2="529.8233211440698" y2="291.9" stroke="#666" stroke-width="0.5" />
<line x1="528.0233211440699" y1="297.1" x2="529.8233211440698" y2="297.1" stroke="#666" stroke-width="0.5" />
<rect x="527.6" y="293.2" width="2.6" height="2.6" fill="#4f81bd" transform="rotate(45 528.9 294.5)"/>
<line x1="538.488339427965" y1="301.5" x2="538.488339427965" y2="306.70000000000005" stroke="#666" stroke-width="0.5" />
<line x1="537.588339427965" y1="301.5" x2="539.388339427965" y2="301.5" stroke="#666" stroke-width="0.5" />
<line x1="537.588339427965" y1="306.70000000000005" x2="539.388339427965" y2="306.70000000000005" stroke="#666" stroke-width="0.5" />
<rect x="537.2" y="302.8" width="2.6" height="2.6" fill="#4f81bd" transform="rotate(45 538.5 304.1)"/>
<line x1="546.3035284128656" y1="313.5" x2="546.3035284128656" y2="318.70000000000005" stroke="#666" stroke-width="0.5" />
<line x1="545.4035284128656" y1="313.5" x2="547.2035284128656" y2="313.5" stroke="#666" stroke-width="0.5" />
<line x1="545.4035284128656" y1="318.70000000000005" x2="547.2035284128656" y2="318.70000000000005" stroke="#666" stroke-width="0.5" />
<rect x="545.0" y="314.8" width="2.6" height="2.6" fill="#4f81bd" transform="rotate(45 546.3 316.1)"/>
<line x1="558.6349817161049" y1="323.09999999999997" x2="558.6349817161049" y2="328.3" stroke="#666" stroke-width="0.5" />
<line x1="557.7349817161049" y1="323.09999999999997" x2="559.5349817161049" y2="323.09999999999997" stroke="#666" stroke-width="0.5" />
<line x1="557.7349817161049" y1="328.3" x2="559.5349817161049" y2="328.3" stroke="#666" stroke-width="0.5" />
<rect x="557.3" y="324.4" width="2.6" height="2.6" fill="#4f81bd" transform="rotate(45 558.6 325.7)"/>
<line x1="568.2" y1="337.5" x2="568.2" y2="342.70000000000005" stroke="#666" stroke-width="0.5" />
<line x1="567.3000000000001" y1="337.5" x2="569.1" y2="337.5" stroke="#666" stroke-width="0.5" />
<line x1="567.3000000000001" y1="342.70000000000005" x2="569.1" y2="342.70000000000005" stroke="#666" stroke-width="0.5" />
<rect x="566.9" y="338.8" width="2.6" height="2.6" fill="#4f81bd" transform="rotate(45 568.2 340.1)"/>
<line x1="597.911660572035" y1="348.29999999999995" x2="597.911660572035" y2="353.5" stroke="#666" stroke-width="0.5" />
<line x1="597.011660572035" y1="348.29999999999995" x2="598.811660572035" y2="348.29999999999995" stroke="#666" stroke-width="0.5" />
<line x1="597.011660572035" y1="353.5" x2="598.811660572035" y2="353.5" stroke="#666" stroke-width="0.5" />
<rect x="596.6" y="349.6" width="2.6" height="2.6" fill="#4f81bd" transform="rotate(45 597.9 350.9)"/>
<polyline points="469.5,284.9 499.2,306.5 528.9,319.7 538.5,331.7 546.3,341.3 558.6,348.5 568.2,356.9 597.9,366.5" fill="none" stroke="#c0504d" stroke-width="1.3" stroke-linejoin="round" />
<line x1="469.5" y1="282.29999999999995" x2="469.5" y2="287.5" stroke="#666" stroke-width="0.5" />
<line x1="468.6" y1="282.29999999999995" x2="470.4" y2="282.29999999999995" stroke="#666" stroke-width="0.5" />
<line x1="468.6" y1="287.5" x2="470.4" y2="287.5" stroke="#666" stroke-width="0.5" />
<rect x="468.2" y="283.6" width="2.6" height="2.6" fill="#c0504d" transform="rotate(45 469.5 284.9)"/>
<line x1="499.21166057203493" y1="303.9" x2="499.21166057203493" y2="309.1" stroke="#666" stroke-width="0.5" />
<line x1="498.31166057203495" y1="303.9" x2="500.1116605720349" y2="303.9" stroke="#666" stroke-width="0.5" />
<line x1="498.31166057203495" y1="309.1" x2="500.1116605720349" y2="309.1" stroke="#666" stroke-width="0.5" />
<rect x="497.9" y="305.2" width="2.6" height="2.6" fill="#c0504d" transform="rotate(45 499.2 306.5)"/>
<line x1="528.9233211440699" y1="317.09999999999997" x2="528.9233211440699" y2="322.3" stroke="#666" stroke-width="0.5" />
<line x1="528.0233211440699" y1="317.09999999999997" x2="529.8233211440698" y2="317.09999999999997" stroke="#666" stroke-width="0.5" />
<line x1="528.0233211440699" y1="322.3" x2="529.8233211440698" y2="322.3" stroke="#666" stroke-width="0.5" />
<rect x="527.6" y="318.4" width="2.6" height="2.6" fill="#c0504d" transform="rotate(45 528.9 319.7)"/>
<line x1="538.488339427965" y1="329.09999999999997" x2="538.488339427965" y2="334.3" stroke="#666" stroke-width="0.5" />
<line x1="537.588339427965" y1="329.09999999999997" x2="539.388339427965" y2="329.09999999999997" stroke="#666" stroke-width="0.5" />
<line x1="537.588339427965" y1="334.3" x2="539.388339427965" y2="334.3" stroke="#666" stroke-width="0.5" />
<rect x="537.2" y="330.4" width="2.6" height="2.6" fill="#c0504d" transform="rotate(45 538.5 331.7)"/>
<line x1="546.3035284128656" y1="338.7" x2="546.3035284128656" y2="343.90000000000003" stroke="#666" stroke-width="0.5" />
<line x1="545.4035284128656" y1="338.7" x2="547.2035284128656" y2="338.7" stroke="#666" stroke-width="0.5" />
<line x1="545.4035284128656" y1="343.90000000000003" x2="547.2035284128656" y2="343.90000000000003" stroke="#666" stroke-width="0.5" />
<rect x="545.0" y="340.0" width="2.6" height="2.6" fill="#c0504d" transform="rotate(45 546.3 341.3)"/>
<line x1="558.6349817161049" y1="345.9" x2="558.6349817161049" y2="351.1" stroke="#666" stroke-width="0.5" />
<line x1="557.7349817161049" y1="345.9" x2="559.5349817161049" y2="345.9" stroke="#666" stroke-width="0.5" />
<line x1="557.7349817161049" y1="351.1" x2="559.5349817161049" y2="351.1" stroke="#666" stroke-width="0.5" />
<rect x="557.3" y="347.2" width="2.6" height="2.6" fill="#c0504d" transform="rotate(45 558.6 348.5)"/>
<line x1="568.2" y1="354.29999999999995" x2="568.2" y2="359.5" stroke="#666" stroke-width="0.5" />
<line x1="567.3000000000001" y1="354.29999999999995" x2="569.1" y2="354.29999999999995" stroke="#666" stroke-width="0.5" />
<line x1="567.3000000000001" y1="359.5" x2="569.1" y2="359.5" stroke="#666" stroke-width="0.5" />
<rect x="566.9" y="355.6" width="2.6" height="2.6" fill="#c0504d" transform="rotate(45 568.2 356.9)"/>
<line x1="597.911660572035" y1="363.9" x2="597.911660572035" y2="369.1" stroke="#666" stroke-width="0.5" />
<line x1="597.011660572035" y1="363.9" x2="598.811660572035" y2="363.9" stroke="#666" stroke-width="0.5" />
<line x1="597.011660572035" y1="369.1" x2="598.811660572035" y2="369.1" stroke="#666" stroke-width="0.5" />
<rect x="596.6" y="365.2" width="2.6" height="2.6" fill="#c0504d" transform="rotate(45 597.9 366.5)"/>
<line x1="370.8" y1="236.6" x2="377" y2="236.6" stroke="#9bbb59" stroke-width="1.2" />
<rect x="372.9" y="235.6" width="2" height="2" fill="#9bbb59" transform="rotate(45 373.9 236.6)"/>
<text x="378.4" y="239.1" font-size="7.9" fill="#111" font-weight="bold" text-anchor="start" font-family="Liberation Sans" >MYR-phospholipid CPX</text>
<line x1="486.7" y1="236.6" x2="493.7" y2="236.6" stroke="#4f81bd" stroke-width="1.2" />
<rect x="489.2" y="235.6" width="2" height="2" fill="#4f81bd" transform="rotate(45 490.2 236.6)"/>
<text x="494.3" y="239.1" font-size="7.9" fill="#111" font-weight="bold" text-anchor="start" font-family="Liberation Sans" >MYR CPX-SLNs</text>
<line x1="575.3" y1="236.6" x2="581.5" y2="236.6" stroke="#c0504d" stroke-width="1.2" />
<rect x="577.4" y="235.6" width="2" height="2" fill="#c0504d" transform="rotate(45 578.4 236.6)"/>
<text x="582.2" y="239.1" font-size="7.9" fill="#111" font-weight="bold" text-anchor="start" font-family="Liberation Sans" >Lf-MYR CPX-SLNs</text>
</g>
</svg>
</body></html>
